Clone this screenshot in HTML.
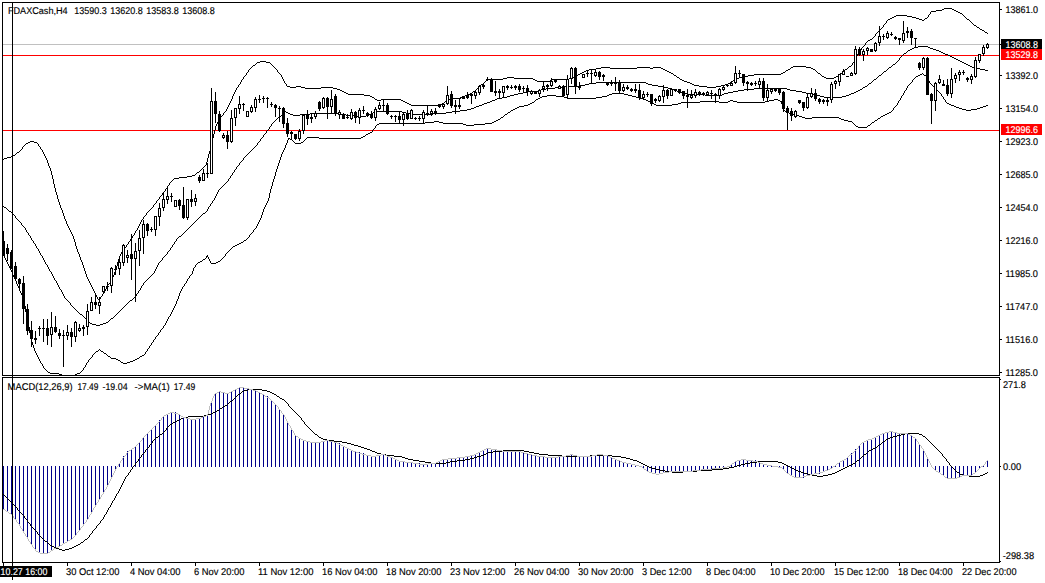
<!DOCTYPE html>
<html><head><meta charset="utf-8"><title>FDAXCash H4</title>
<style>html,body{margin:0;padding:0;background:#fff;overflow:hidden}svg{display:block}text{text-rendering:geometricPrecision;font-family:"Liberation Sans",sans-serif;font-size:9.8px}</style>
</head><body>
<svg width="1045" height="583" viewBox="0 0 1045 583">
<rect width="1045" height="583" fill="#fff"/>
<g shape-rendering="crispEdges">
<rect x="3" y="44" width="997" height="1" fill="#c0c0c0"/>
<rect x="3" y="55" width="997" height="1" fill="#ff0000"/>
<rect x="3" y="130" width="997" height="1" fill="#ff0000"/>
</g>
<g shape-rendering="crispEdges" fill="#00008b">
<rect x="3" y="466" width="1" height="44"/>
<rect x="7" y="466" width="1" height="46"/>
<rect x="11" y="466" width="1" height="49"/>
<rect x="15" y="466" width="1" height="54"/>
<rect x="19" y="466" width="1" height="59"/>
<rect x="23" y="466" width="1" height="65"/>
<rect x="27" y="466" width="1" height="72"/>
<rect x="31" y="466" width="1" height="79"/>
<rect x="35" y="466" width="1" height="85"/>
<rect x="39" y="466" width="1" height="87"/>
<rect x="43" y="466" width="1" height="88"/>
<rect x="47" y="466" width="1" height="87"/>
<rect x="51" y="466" width="1" height="85"/>
<rect x="55" y="466" width="1" height="83"/>
<rect x="59" y="466" width="1" height="81"/>
<rect x="63" y="466" width="1" height="78"/>
<rect x="67" y="466" width="1" height="76"/>
<rect x="71" y="466" width="1" height="74"/>
<rect x="75" y="466" width="1" height="70"/>
<rect x="79" y="466" width="1" height="65"/>
<rect x="83" y="466" width="1" height="59"/>
<rect x="87" y="466" width="1" height="53"/>
<rect x="91" y="466" width="1" height="47"/>
<rect x="95" y="466" width="1" height="40"/>
<rect x="99" y="466" width="1" height="33"/>
<rect x="103" y="466" width="1" height="27"/>
<rect x="107" y="466" width="1" height="20"/>
<rect x="111" y="466" width="1" height="13"/>
<rect x="115" y="466" width="1" height="5"/>
<rect x="119" y="463" width="1" height="4"/>
<rect x="123" y="456" width="1" height="11"/>
<rect x="127" y="451" width="1" height="16"/>
<rect x="131" y="449" width="1" height="18"/>
<rect x="135" y="446" width="1" height="21"/>
<rect x="139" y="442" width="1" height="25"/>
<rect x="143" y="437" width="1" height="30"/>
<rect x="147" y="433" width="1" height="34"/>
<rect x="151" y="429" width="1" height="38"/>
<rect x="155" y="425" width="1" height="42"/>
<rect x="159" y="420" width="1" height="47"/>
<rect x="163" y="416" width="1" height="51"/>
<rect x="167" y="414" width="1" height="53"/>
<rect x="171" y="412" width="1" height="55"/>
<rect x="175" y="412" width="1" height="55"/>
<rect x="179" y="414" width="1" height="53"/>
<rect x="183" y="417" width="1" height="50"/>
<rect x="187" y="418" width="1" height="49"/>
<rect x="191" y="419" width="1" height="48"/>
<rect x="195" y="419" width="1" height="48"/>
<rect x="199" y="418" width="1" height="49"/>
<rect x="203" y="416" width="1" height="51"/>
<rect x="207" y="414" width="1" height="53"/>
<rect x="211" y="402" width="1" height="65"/>
<rect x="215" y="393" width="1" height="74"/>
<rect x="219" y="391" width="1" height="76"/>
<rect x="223" y="392" width="1" height="75"/>
<rect x="227" y="393" width="1" height="74"/>
<rect x="231" y="392" width="1" height="75"/>
<rect x="235" y="390" width="1" height="77"/>
<rect x="239" y="388" width="1" height="79"/>
<rect x="243" y="387" width="1" height="80"/>
<rect x="247" y="388" width="1" height="79"/>
<rect x="251" y="389" width="1" height="78"/>
<rect x="255" y="391" width="1" height="76"/>
<rect x="259" y="392" width="1" height="75"/>
<rect x="263" y="394" width="1" height="73"/>
<rect x="267" y="396" width="1" height="71"/>
<rect x="271" y="400" width="1" height="67"/>
<rect x="275" y="404" width="1" height="63"/>
<rect x="279" y="409" width="1" height="58"/>
<rect x="283" y="415" width="1" height="52"/>
<rect x="287" y="422" width="1" height="45"/>
<rect x="291" y="429" width="1" height="38"/>
<rect x="295" y="435" width="1" height="32"/>
<rect x="299" y="438" width="1" height="29"/>
<rect x="303" y="440" width="1" height="27"/>
<rect x="307" y="441" width="1" height="26"/>
<rect x="311" y="442" width="1" height="25"/>
<rect x="315" y="442" width="1" height="25"/>
<rect x="319" y="442" width="1" height="25"/>
<rect x="323" y="441" width="1" height="26"/>
<rect x="327" y="440" width="1" height="27"/>
<rect x="331" y="441" width="1" height="26"/>
<rect x="335" y="442" width="1" height="25"/>
<rect x="339" y="443" width="1" height="24"/>
<rect x="343" y="446" width="1" height="21"/>
<rect x="347" y="448" width="1" height="19"/>
<rect x="351" y="450" width="1" height="17"/>
<rect x="355" y="451" width="1" height="16"/>
<rect x="359" y="452" width="1" height="15"/>
<rect x="363" y="453" width="1" height="14"/>
<rect x="367" y="455" width="1" height="12"/>
<rect x="371" y="456" width="1" height="11"/>
<rect x="375" y="456" width="1" height="11"/>
<rect x="379" y="455" width="1" height="12"/>
<rect x="383" y="454" width="1" height="13"/>
<rect x="387" y="455" width="1" height="12"/>
<rect x="391" y="457" width="1" height="10"/>
<rect x="395" y="459" width="1" height="8"/>
<rect x="399" y="461" width="1" height="6"/>
<rect x="403" y="461" width="1" height="6"/>
<rect x="407" y="462" width="1" height="5"/>
<rect x="411" y="462" width="1" height="5"/>
<rect x="415" y="463" width="1" height="4"/>
<rect x="419" y="463" width="1" height="4"/>
<rect x="423" y="464" width="1" height="3"/>
<rect x="427" y="464" width="1" height="3"/>
<rect x="431" y="463" width="1" height="4"/>
<rect x="435" y="463" width="1" height="4"/>
<rect x="439" y="461" width="1" height="6"/>
<rect x="443" y="459" width="1" height="8"/>
<rect x="447" y="459" width="1" height="8"/>
<rect x="451" y="458" width="1" height="9"/>
<rect x="455" y="458" width="1" height="9"/>
<rect x="459" y="457" width="1" height="10"/>
<rect x="463" y="457" width="1" height="10"/>
<rect x="467" y="456" width="1" height="11"/>
<rect x="471" y="455" width="1" height="12"/>
<rect x="475" y="454" width="1" height="13"/>
<rect x="479" y="452" width="1" height="15"/>
<rect x="483" y="450" width="1" height="17"/>
<rect x="487" y="448" width="1" height="19"/>
<rect x="491" y="449" width="1" height="18"/>
<rect x="495" y="450" width="1" height="17"/>
<rect x="499" y="450" width="1" height="17"/>
<rect x="503" y="451" width="1" height="16"/>
<rect x="507" y="451" width="1" height="16"/>
<rect x="511" y="451" width="1" height="16"/>
<rect x="515" y="451" width="1" height="16"/>
<rect x="519" y="451" width="1" height="16"/>
<rect x="523" y="452" width="1" height="15"/>
<rect x="527" y="453" width="1" height="14"/>
<rect x="531" y="454" width="1" height="13"/>
<rect x="535" y="455" width="1" height="12"/>
<rect x="539" y="456" width="1" height="11"/>
<rect x="543" y="456" width="1" height="11"/>
<rect x="547" y="457" width="1" height="10"/>
<rect x="551" y="457" width="1" height="10"/>
<rect x="555" y="457" width="1" height="10"/>
<rect x="559" y="456" width="1" height="11"/>
<rect x="563" y="456" width="1" height="11"/>
<rect x="567" y="455" width="1" height="12"/>
<rect x="571" y="454" width="1" height="13"/>
<rect x="575" y="455" width="1" height="12"/>
<rect x="579" y="456" width="1" height="11"/>
<rect x="583" y="456" width="1" height="11"/>
<rect x="587" y="456" width="1" height="11"/>
<rect x="591" y="455" width="1" height="12"/>
<rect x="595" y="455" width="1" height="12"/>
<rect x="599" y="454" width="1" height="13"/>
<rect x="603" y="455" width="1" height="12"/>
<rect x="607" y="455" width="1" height="12"/>
<rect x="611" y="457" width="1" height="10"/>
<rect x="615" y="459" width="1" height="8"/>
<rect x="619" y="460" width="1" height="7"/>
<rect x="623" y="462" width="1" height="5"/>
<rect x="627" y="463" width="1" height="4"/>
<rect x="631" y="464" width="1" height="3"/>
<rect x="635" y="465" width="1" height="2"/>
<rect x="639" y="466" width="1" height="1"/>
<rect x="643" y="466" width="1" height="3"/>
<rect x="647" y="466" width="1" height="6"/>
<rect x="651" y="466" width="1" height="7"/>
<rect x="655" y="466" width="1" height="8"/>
<rect x="659" y="466" width="1" height="8"/>
<rect x="663" y="466" width="1" height="7"/>
<rect x="667" y="466" width="1" height="7"/>
<rect x="671" y="466" width="1" height="6"/>
<rect x="675" y="466" width="1" height="6"/>
<rect x="679" y="466" width="1" height="6"/>
<rect x="683" y="466" width="1" height="6"/>
<rect x="687" y="466" width="1" height="6"/>
<rect x="691" y="466" width="1" height="5"/>
<rect x="695" y="466" width="1" height="5"/>
<rect x="699" y="466" width="1" height="5"/>
<rect x="703" y="466" width="1" height="4"/>
<rect x="707" y="466" width="1" height="4"/>
<rect x="711" y="466" width="1" height="4"/>
<rect x="715" y="466" width="1" height="3"/>
<rect x="719" y="466" width="1" height="3"/>
<rect x="723" y="466" width="1" height="2"/>
<rect x="727" y="466" width="1" height="1"/>
<rect x="731" y="464" width="1" height="3"/>
<rect x="735" y="461" width="1" height="6"/>
<rect x="739" y="460" width="1" height="7"/>
<rect x="743" y="459" width="1" height="8"/>
<rect x="747" y="460" width="1" height="7"/>
<rect x="751" y="460" width="1" height="7"/>
<rect x="755" y="460" width="1" height="7"/>
<rect x="759" y="462" width="1" height="5"/>
<rect x="763" y="464" width="1" height="3"/>
<rect x="767" y="465" width="1" height="2"/>
<rect x="771" y="465" width="1" height="2"/>
<rect x="775" y="466" width="1" height="1"/>
<rect x="779" y="466" width="1" height="1"/>
<rect x="783" y="466" width="1" height="3"/>
<rect x="787" y="466" width="1" height="7"/>
<rect x="791" y="466" width="1" height="10"/>
<rect x="795" y="466" width="1" height="12"/>
<rect x="799" y="466" width="1" height="12"/>
<rect x="803" y="466" width="1" height="12"/>
<rect x="807" y="466" width="1" height="10"/>
<rect x="811" y="466" width="1" height="9"/>
<rect x="815" y="466" width="1" height="8"/>
<rect x="819" y="466" width="1" height="8"/>
<rect x="823" y="466" width="1" height="6"/>
<rect x="827" y="466" width="1" height="5"/>
<rect x="831" y="466" width="1" height="3"/>
<rect x="835" y="465" width="1" height="2"/>
<rect x="839" y="462" width="1" height="5"/>
<rect x="843" y="460" width="1" height="7"/>
<rect x="847" y="457" width="1" height="10"/>
<rect x="851" y="453" width="1" height="14"/>
<rect x="855" y="449" width="1" height="18"/>
<rect x="859" y="445" width="1" height="22"/>
<rect x="863" y="442" width="1" height="25"/>
<rect x="867" y="440" width="1" height="27"/>
<rect x="871" y="439" width="1" height="28"/>
<rect x="875" y="437" width="1" height="30"/>
<rect x="879" y="435" width="1" height="32"/>
<rect x="883" y="433" width="1" height="34"/>
<rect x="887" y="432" width="1" height="35"/>
<rect x="891" y="431" width="1" height="36"/>
<rect x="895" y="432" width="1" height="35"/>
<rect x="899" y="433" width="1" height="34"/>
<rect x="903" y="433" width="1" height="34"/>
<rect x="907" y="433" width="1" height="34"/>
<rect x="911" y="435" width="1" height="32"/>
<rect x="915" y="438" width="1" height="29"/>
<rect x="919" y="444" width="1" height="23"/>
<rect x="923" y="449" width="1" height="18"/>
<rect x="927" y="458" width="1" height="9"/>
<rect x="931" y="466" width="1" height="1"/>
<rect x="935" y="466" width="1" height="5"/>
<rect x="939" y="466" width="1" height="7"/>
<rect x="943" y="466" width="1" height="10"/>
<rect x="947" y="466" width="1" height="13"/>
<rect x="951" y="466" width="1" height="13"/>
<rect x="955" y="466" width="1" height="13"/>
<rect x="959" y="466" width="1" height="12"/>
<rect x="963" y="466" width="1" height="10"/>
<rect x="967" y="466" width="1" height="10"/>
<rect x="971" y="466" width="1" height="10"/>
<rect x="975" y="466" width="1" height="7"/>
<rect x="979" y="466" width="1" height="3"/>
<rect x="983" y="465" width="1" height="2"/>
<rect x="987" y="460" width="1" height="7"/>
</g>
<path shape-rendering="crispEdges" fill="#000" d="M804 473h4v1h-4zM832 473h3v1h-3zM985 473h2v1h-2zM386 455h8v1h-8zM481 455h3v1h-3zM548 455h14v1h-14zM590 455h22v1h-22zM905 433h14v1h-14zM812 475h5v1h-5zM823 475h5v1h-5zM963 475h6v1h-6zM980 475h3v1h-3zM394 456h8v1h-8zM477 456h4v1h-4zM562 456h28v1h-28zM612 456h9v1h-9zM425 462h6v1h-6zM446 462h4v1h-4zM639 462h2v1h-2zM750 462h7v1h-7zM778 462h4v1h-4zM672 472h11v1h-11zM801 472h3v1h-3zM835 472h2v1h-2zM957 472h2v1h-2zM177 420h2v1h-2zM323 439h4v1h-4zM886 439h2v1h-2zM893 436h4v1h-4zM923 436h2v1h-2zM817 476h6v1h-6zM969 476h11v1h-11zM59 549h3v1h-3zM65 549h4v1h-4zM660 470h5v1h-5zM697 470h15v1h-15zM796 470h2v1h-2zM839 470h2v1h-2zM402 457h3v1h-3zM474 457h3v1h-3zM621 457h5v1h-5zM645 465h2v1h-2zM737 465h4v1h-4zM786 465h2v1h-2zM849 465h2v1h-2zM52 546h2v1h-2zM74 546h2v1h-2zM405 458h3v1h-3zM470 458h4v1h-4zM626 458h4v1h-4zM897 435h4v1h-4zM381 454h5v1h-5zM484 454h2v1h-2zM539 454h9v1h-9zM864 454h2v1h-2zM351 444h3v1h-3zM879 444h2v1h-2zM367 449h3v1h-3zM871 449h2v1h-2zM62 550h3v1h-3zM211 413h2v1h-2zM431 463h15v1h-15zM641 463h2v1h-2zM745 463h5v1h-5zM782 463h2v1h-2zM853 463h2v1h-2zM327 440h7v1h-7zM652 468h4v1h-4zM723 468h6v1h-6zM792 468h2v1h-2zM843 468h2v1h-2zM408 459h5v1h-5zM465 459h5v1h-5zM630 459h3v1h-3zM370 450h2v1h-2zM503 450h21v1h-21zM869 450h2v1h-2zM665 471h7v1h-7zM683 471h14v1h-14zM798 471h3v1h-3zM837 471h2v1h-2zM361 447h3v1h-3zM875 447h2v1h-2zM173 422h2v1h-2zM56 548h3v1h-3zM69 548h3v1h-3zM342 442h5v1h-5zM188 416h16v1h-16zM647 466h2v1h-2zM734 466h3v1h-3zM788 466h2v1h-2zM847 466h2v1h-2zM364 448h3v1h-3zM873 448h2v1h-2zM656 469h4v1h-4zM712 469h11v1h-11zM794 469h2v1h-2zM841 469h2v1h-2zM808 474h4v1h-4zM828 474h4v1h-4zM960 474h3v1h-3zM983 474h2v1h-2zM45 541h2v1h-2zM248 389h14v1h-14zM220 408h2v1h-2zM643 464h2v1h-2zM741 464h4v1h-4zM784 464h2v1h-2zM851 464h2v1h-2zM354 445h4v1h-4zM649 467h3v1h-3zM729 467h5v1h-5zM790 467h2v1h-2zM845 467h2v1h-2zM419 461h6v1h-6zM450 461h7v1h-7zM637 461h2v1h-2zM757 461h21v1h-21zM413 460h6v1h-6zM457 460h8v1h-8zM633 460h4v1h-4zM857 460h2v1h-2zM208 414h3v1h-3zM347 443h4v1h-4zM377 453h4v1h-4zM486 453h2v1h-2zM534 453h5v1h-5zM156 437h2v1h-2zM319 437h2v1h-2zM890 437h3v1h-3zM282 399h2v1h-2zM372 451h3v1h-3zM493 451h10v1h-10zM524 451h5v1h-5zM242 391h2v1h-2zM267 391h3v1h-3zM270 392h2v1h-2zM230 401h2v1h-2zM81 542h2v1h-2zM272 393h2v1h-2zM334 441h8v1h-8zM883 441h2v1h-2zM160 434h2v1h-2zM315 434h2v1h-2zM901 434h4v1h-4zM919 434h3v1h-3zM217 410h2v1h-2zM215 411h2v1h-2zM50 545h2v1h-2zM76 545h2v1h-2zM277 396h2v1h-2zM225 405h2v1h-2zM183 417h5v1h-5zM375 452h2v1h-2zM488 452h5v1h-5zM529 452h5v1h-5zM244 390h4v1h-4zM262 390h5v1h-5zM280 398h2v1h-2zM321 438h2v1h-2zM888 438h2v1h-2zM358 446h3v1h-3zM223 406h2v1h-2zM54 547h2v1h-2zM72 547h2v1h-2zM78 544h2v1h-2zM238 394h2v1h-2zM274 394h2v1h-2zM179 419h2v1h-2zM213 412h2v1h-2zM175 421h2v1h-2zM204 415h4v1h-4zM85 539h2v1h-2zM170 424h2v1h-2zM181 418h2v1h-2zM959 473h1v1h-1zM228 403h1v1h-1zM145 450h1v2h-1zM229 402h1v1h-1zM147 448h1v1h-1zM859 459h1v1h-1zM166 428h1v2h-1zM234 398h1v1h-1zM929 441h1v1h-1zM301 418h1v2h-1zM103 517h1v2h-1zM934 446h1v1h-1zM314 433h1v1h-1zM29 523h1v1h-1zM141 455h1v2h-1zM143 453h1v1h-1zM944 457h1v1h-1zM227 404h1v1h-1zM144 452h1v1h-1zM232 400h1v1h-1zM162 433h1v1h-1zM49 544h1v1h-1zM128 473h1v2h-1zM310 429h1v1h-1zM102 519h1v1h-1zM305 424h1v1h-1zM140 457h1v1h-1zM119 489h1v2h-1zM120 487h1v2h-1zM318 436h1v1h-1zM126 476h1v1h-1zM80 543h1v1h-1zM946 459h1v2h-1zM311 430h1v1h-1zM111 503h1v2h-1zM222 407h1v1h-1zM949 463h1v2h-1zM935 447h1v1h-1zM868 451h1v1h-1zM115 496h1v2h-1zM17 508h1v2h-1zM931 443h1v1h-1zM941 453h1v1h-1zM950 465h1v1h-1zM125 477h1v2h-1zM927 439h1v1h-1zM152 441h1v2h-1zM312 431h1v1h-1zM26 519h1v1h-1zM116 494h1v2h-1zM118 491h1v2h-1zM276 395h1v1h-1zM308 427h1v1h-1zM122 483h1v2h-1zM148 447h1v1h-1zM48 543h1v1h-1zM860 458h1v1h-1zM108 508h1v2h-1zM27 520h1v2h-1zM107 510h1v2h-1zM942 454h1v2h-1zM882 442h1v1h-1zM92 531h1v2h-1zM30 524h1v2h-1zM135 463h1v2h-1zM309 428h1v1h-1zM938 450h1v1h-1zM303 421h1v1h-1zM233 399h1v1h-1zM219 409h1v1h-1zM293 410h1v1h-1zM922 435h1v1h-1zM953 468h1v1h-1zM288 404h1v2h-1zM2 493h1v1h-1zM939 451h1v1h-1zM37 532h1v2h-1zM112 501h1v2h-1zM114 498h1v2h-1zM289 406h1v1h-1zM146 449h1v1h-1zM294 411h1v1h-1zM129 472h1v1h-1zM131 469h1v1h-1zM24 516h1v2h-1zM130 470h1v2h-1zM3 494h1v1h-1zM104 515h1v2h-1zM106 512h1v2h-1zM18 510h1v1h-1zM132 467h1v2h-1zM43 539h1v1h-1zM142 454h1v1h-1zM290 407h1v1h-1zM39 535h1v1h-1zM987 472h1v1h-1zM100 521h1v2h-1zM954 469h1v1h-1zM940 452h1v1h-1zM19 511h1v1h-1zM138 459h1v2h-1zM89 535h1v2h-1zM936 448h1v1h-1zM83 541h1v1h-1zM96 526h1v2h-1zM295 412h1v1h-1zM25 518h1v1h-1zM955 470h1v1h-1zM4 495h1v1h-1zM302 420h1v1h-1zM44 540h1v1h-1zM110 505h1v2h-1zM291 408h1v1h-1zM5 496h1v1h-1zM164 431h1v1h-1zM951 466h1v1h-1zM165 430h1v1h-1zM10 501h1v1h-1zM154 439h1v1h-1zM40 536h1v1h-1zM313 432h1v1h-1zM292 409h1v1h-1zM6 497h1v1h-1zM286 402h1v1h-1zM124 479h1v2h-1zM150 444h1v1h-1zM153 440h1v1h-1zM41 537h1v1h-1zM956 471h1v1h-1zM35 530h1v1h-1zM877 446h1v1h-1zM22 514h1v1h-1zM123 481h1v2h-1zM31 526h1v1h-1zM149 445h1v2h-1zM11 502h1v1h-1zM952 467h1v1h-1zM304 422h1v2h-1zM881 443h1v1h-1zM298 415h1v1h-1zM7 498h1v1h-1zM32 527h1v1h-1zM947 461h1v1h-1zM42 538h1v1h-1zM299 416h1v1h-1zM885 440h1v1h-1zM8 499h1v1h-1zM121 485h1v2h-1zM38 534h1v1h-1zM23 515h1v1h-1zM169 425h1v1h-1zM84 540h1v1h-1zM113 500h1v1h-1zM284 400h1v1h-1zM94 529h1v1h-1zM285 401h1v1h-1zM33 528h1v1h-1zM236 396h1v1h-1zM168 426h1v1h-1zM155 438h1v1h-1zM90 534h1v1h-1zM88 537h1v1h-1zM20 512h1v1h-1zM300 417h1v1h-1zM14 505h1v1h-1zM928 440h1v1h-1zM9 500h1v1h-1zM948 462h1v1h-1zM279 397h1v1h-1zM172 423h1v1h-1zM296 413h1v1h-1zM87 538h1v1h-1zM159 435h1v1h-1zM15 506h1v1h-1zM117 493h1v1h-1zM297 414h1v1h-1zM109 507h1v1h-1zM925 437h1v1h-1zM158 436h1v1h-1zM163 432h1v1h-1zM21 513h1v1h-1zM317 435h1v1h-1zM945 458h1v1h-1zM287 403h1v1h-1zM306 425h1v1h-1zM36 531h1v1h-1zM930 442h1v1h-1zM98 524h1v1h-1zM101 520h1v1h-1zM127 475h1v1h-1zM16 507h1v1h-1zM99 523h1v1h-1zM136 462h1v1h-1zM137 461h1v1h-1zM139 458h1v1h-1zM863 455h1v1h-1zM12 503h1v1h-1zM926 438h1v1h-1zM95 528h1v1h-1zM97 525h1v1h-1zM133 466h1v1h-1zM105 514h1v1h-1zM134 465h1v1h-1zM862 456h1v1h-1zM13 504h1v1h-1zM867 452h1v1h-1zM932 444h1v1h-1zM237 395h1v1h-1zM861 457h1v1h-1zM856 461h1v1h-1zM91 533h1v1h-1zM93 530h1v1h-1zM47 542h1v1h-1zM307 426h1v1h-1zM235 397h1v1h-1zM240 393h1v1h-1zM241 392h1v1h-1zM866 453h1v1h-1zM943 456h1v1h-1zM855 462h1v1h-1zM937 449h1v1h-1zM167 427h1v1h-1zM151 443h1v1h-1zM878 445h1v1h-1zM34 529h1v1h-1zM933 445h1v1h-1zM28 522h1v1h-1z"/>
<path shape-rendering="crispEdges" fill="#c0c0c0" d="M371 456h5v1h-5zM387 456h3v1h-3zM465 456h5v1h-5zM537 456h8v1h-8zM558 456h8v1h-8zM577 456h15v1h-15zM608 456h2v1h-2zM349 449h2v1h-2zM484 449h2v1h-2zM491 449h6v1h-6zM343 446h2v1h-2zM790 475h2v1h-2zM806 475h4v1h-4zM962 475h10v1h-10zM219 391h2v1h-2zM231 391h2v1h-2zM256 391h2v1h-2zM310 442h11v1h-11zM334 442h3v1h-3zM862 442h2v1h-2zM399 461h6v1h-6zM438 461h2v1h-2zM620 461h2v1h-2zM735 461h2v1h-2zM753 461h5v1h-5zM840 461h2v1h-2zM265 396h2v1h-2zM419 464h9v1h-9zM631 464h4v1h-4zM763 464h4v1h-4zM40 553h8v1h-8zM393 458h2v1h-2zM448 458h9v1h-9zM612 458h3v1h-3zM882 433h3v1h-3zM897 433h11v1h-11zM353 451h3v1h-3zM480 451h2v1h-2zM502 451h19v1h-19zM395 459h2v1h-2zM442 459h6v1h-6zM615 459h2v1h-2zM741 459h5v1h-5zM844 459h2v1h-2zM712 468h10v1h-10zM830 468h2v1h-2zM652 473h4v1h-4zM659 473h4v1h-4zM787 473h2v1h-2zM814 473h5v1h-5zM973 473h2v1h-2zM366 455h5v1h-5zM376 455h5v1h-5zM385 455h2v1h-2zM470 455h4v1h-4zM532 455h5v1h-5zM566 455h4v1h-4zM573 455h4v1h-4zM592 455h5v1h-5zM603 455h5v1h-5zM164 415h2v1h-2zM206 415h2v1h-2zM792 476h2v1h-2zM803 476h3v1h-3zM960 476h2v1h-2zM405 462h8v1h-8zM436 462h2v1h-2zM622 462h4v1h-4zM758 462h2v1h-2zM237 388h2v1h-2zM244 388h5v1h-5zM693 470h8v1h-8zM825 470h3v1h-3zM38 552h2v1h-2zM48 552h2v1h-2zM635 465h4v1h-4zM767 465h5v1h-5zM647 471h2v1h-2zM669 471h24v1h-24zM823 471h2v1h-2zM936 471h2v1h-2zM397 460h2v1h-2zM440 460h2v1h-2zM617 460h3v1h-3zM737 460h4v1h-4zM746 460h7v1h-7zM842 460h2v1h-2zM215 393h2v1h-2zM225 393h4v1h-4zM260 393h2v1h-2zM306 441h4v1h-4zM321 441h4v1h-4zM329 441h5v1h-5zM864 441h2v1h-2zM36 551h2v1h-2zM339 444h2v1h-2zM889 431h4v1h-4zM235 389h2v1h-2zM249 389h4v1h-4zM186 418h4v1h-4zM196 418h5v1h-5zM413 463h6v1h-6zM428 463h8v1h-8zM626 463h5v1h-5zM732 463h2v1h-2zM760 463h3v1h-3zM837 463h2v1h-2zM794 477h9v1h-9zM945 477h2v1h-2zM957 477h3v1h-3zM181 416h2v1h-2zM203 416h3v1h-3zM390 457h3v1h-3zM457 457h8v1h-8zM545 457h13v1h-13zM610 457h2v1h-2zM132 448h2v1h-2zM347 448h2v1h-2zM486 448h5v1h-5zM359 453h3v1h-3zM476 453h2v1h-2zM524 453h4v1h-4zM190 419h6v1h-6zM129 450h2v1h-2zM351 450h2v1h-2zM482 450h2v1h-2zM497 450h5v1h-5zM644 469h2v1h-2zM701 469h11v1h-11zM828 469h2v1h-2zM656 474h3v1h-3zM810 474h4v1h-4zM941 474h2v1h-2zM880 434h2v1h-2zM908 434h2v1h-2zM878 435h2v1h-2zM910 435h2v1h-2zM639 466h3v1h-3zM727 466h3v1h-3zM772 466h6v1h-6zM833 466h2v1h-2zM981 466h2v1h-2zM70 539h2v1h-2zM356 452h3v1h-3zM478 452h2v1h-2zM521 452h3v1h-3zM885 432h4v1h-4zM893 432h4v1h-4zM362 454h4v1h-4zM381 454h4v1h-4zM474 454h2v1h-2zM528 454h4v1h-4zM570 454h3v1h-3zM597 454h6v1h-6zM850 454h2v1h-2zM168 413h2v1h-2zM174 413h4v1h-4zM54 548h2v1h-2zM649 472h3v1h-3zM663 472h6v1h-6zM819 472h4v1h-4zM938 472h2v1h-2zM947 478h10v1h-10zM303 440h3v1h-3zM325 440h4v1h-4zM866 440h2v1h-2zM296 436h2v1h-2zM876 436h2v1h-2zM239 387h5v1h-5zM9 513h2v1h-2zM51 550h2v1h-2zM68 540h2v1h-2zM722 467h5v1h-5zM778 467h4v1h-4zM341 445h2v1h-2zM63 543h2v1h-2zM65 542h2v1h-2zM345 447h2v1h-2zM166 414h2v1h-2zM178 414h2v1h-2zM337 443h2v1h-2zM299 438h2v1h-2zM872 438h2v1h-2zM217 392h2v1h-2zM221 392h4v1h-4zM229 392h2v1h-2zM258 392h2v1h-2zM301 439h2v1h-2zM868 439h4v1h-4zM58 546h2v1h-2zM56 547h2v1h-2zM170 412h4v1h-4zM183 417h3v1h-3zM201 417h2v1h-2zM3 509h2v1h-2zM874 437h2v1h-2zM913 437h2v1h-2zM233 390h2v1h-2zM253 390h3v1h-3zM262 394h2v1h-2zM267 397h2v1h-2zM6 511h2v1h-2zM60 545h2v1h-2zM88 517h1v2h-1zM123 457h1v1h-1zM209 406h1v4h-1zM76 533h1v2h-1zM921 446h1v2h-1zM112 475h1v2h-1zM213 396h1v2h-1zM8 512h1v1h-1zM83 524h1v2h-1zM151 429h1v1h-1zM208 410h1v4h-1zM111 477h1v2h-1zM940 473h1v1h-1zM284 415h1v2h-1zM15 519h1v1h-1zM985 462h1v2h-1zM734 462h1v1h-1zM935 470h1v1h-1zM19 524h1v2h-1zM269 398h1v1h-1zM107 485h1v2h-1zM154 426h1v1h-1zM96 503h1v2h-1zM99 499h1v1h-1zM115 469h1v2h-1zM860 444h1v1h-1zM212 398h1v3h-1zM103 492h1v2h-1zM106 487h1v2h-1zM95 505h1v2h-1zM142 438h1v2h-1zM119 463h1v1h-1zM22 529h1v2h-1zM848 456h1v1h-1zM211 401h1v2h-1zM79 530h1v1h-1zM18 523h1v1h-1zM82 526h1v1h-1zM91 512h1v2h-1zM852 453h1v1h-1zM161 418h1v2h-1zM74 536h1v1h-1zM134 447h1v1h-1zM980 467h1v1h-1zM122 458h1v2h-1zM149 431h1v1h-1zM642 467h1v1h-1zM932 467h1v1h-1zM25 534h1v2h-1zM643 468h1v1h-1zM783 469h1v1h-1zM110 479h1v2h-1zM275 404h1v1h-1zM102 494h1v1h-1zM984 464h1v1h-1zM276 405h1v1h-1zM118 464h1v2h-1zM977 470h1v1h-1zM156 424h1v1h-1zM125 455h1v1h-1zM98 500h1v2h-1zM210 403h1v3h-1zM67 541h1v1h-1zM17 522h1v1h-1zM782 468h1v1h-1zM931 465h1v2h-1zM28 539h1v2h-1zM114 471h1v2h-1zM21 528h1v1h-1zM153 427h1v1h-1zM916 439h1v2h-1zM141 440h1v1h-1zM144 436h1v1h-1zM859 445h1v1h-1zM854 451h1v1h-1zM16 520h1v2h-1zM24 533h1v1h-1zM32 545h1v2h-1zM930 463h1v2h-1zM847 457h1v1h-1zM5 510h1v1h-1zM101 495h1v2h-1zM160 420h1v1h-1zM73 537h1v1h-1zM278 407h1v2h-1zM92 510h1v2h-1zM835 465h1v1h-1zM116 467h1v2h-1zM136 445h1v1h-1zM27 537h1v2h-1zM839 462h1v1h-1zM30 542h1v2h-1zM81 527h1v1h-1zM20 526h1v2h-1zM23 531h1v2h-1zM109 481h1v2h-1zM31 544h1v1h-1zM270 399h1v1h-1zM927 457h1v2h-1zM979 468h1v1h-1zM271 400h1v1h-1zM983 465h1v1h-1zM105 489h1v1h-1zM277 406h1v1h-1zM148 432h1v1h-1zM214 394h1v2h-1zM789 474h1v1h-1zM281 411h1v2h-1zM929 461h1v2h-1zM26 536h1v1h-1zM858 446h1v2h-1zM933 468h1v1h-1zM163 416h1v1h-1zM915 438h1v1h-1zM140 441h1v1h-1zM918 442h1v2h-1zM926 455h1v2h-1zM731 464h1v1h-1zM53 549h1v1h-1zM158 422h1v1h-1zM124 456h1v1h-1zM127 452h1v1h-1zM80 528h1v2h-1zM288 423h1v2h-1zM285 417h1v2h-1zM298 437h1v1h-1zM84 523h1v1h-1zM87 519h1v1h-1zM861 443h1v1h-1zM146 434h1v1h-1zM928 459h1v2h-1zM143 437h1v1h-1zM784 470h1v1h-1zM785 471h1v1h-1zM986 461h1v1h-1zM849 455h1v1h-1zM853 452h1v1h-1zM291 428h1v2h-1zM131 449h1v1h-1zM155 425h1v1h-1zM135 446h1v1h-1zM29 541h1v1h-1zM11 514h1v1h-1zM75 535h1v1h-1zM33 547h1v1h-1zM917 441h1v1h-1zM925 453h1v2h-1zM856 449h1v1h-1zM273 402h1v1h-1zM294 433h1v2h-1zM138 443h1v1h-1zM94 507h1v1h-1zM279 409h1v1h-1zM287 421h1v2h-1zM280 410h1v1h-1zM78 531h1v1h-1zM90 514h1v1h-1zM943 475h1v1h-1zM126 453h1v2h-1zM150 430h1v1h-1zM924 451h1v2h-1zM272 401h1v1h-1zM86 520h1v2h-1zM290 426h1v2h-1zM293 431h1v2h-1zM286 419h1v2h-1zM2 508h1v1h-1zM162 417h1v1h-1zM14 518h1v1h-1zM832 467h1v1h-1zM35 549h1v2h-1zM730 465h1v1h-1zM157 423h1v1h-1zM972 474h1v1h-1zM836 464h1v1h-1zM920 445h1v1h-1zM786 472h1v1h-1zM976 471h1v1h-1zM121 460h1v1h-1zM97 502h1v1h-1zM289 425h1v1h-1zM113 473h1v2h-1zM89 515h1v2h-1zM646 470h1v1h-1zM282 413h1v1h-1zM145 435h1v1h-1zM283 414h1v1h-1zM912 436h1v1h-1zM93 508h1v2h-1zM934 469h1v1h-1zM919 444h1v1h-1zM855 450h1v1h-1zM207 414h1v1h-1zM923 449h1v2h-1zM180 415h1v1h-1zM137 444h1v1h-1zM108 483h1v2h-1zM264 395h1v1h-1zM62 544h1v1h-1zM152 428h1v1h-1zM13 516h1v2h-1zM104 490h1v2h-1zM117 466h1v1h-1zM120 461h1v2h-1zM85 522h1v1h-1zM100 497h1v2h-1zM292 430h1v1h-1zM274 403h1v1h-1zM295 435h1v1h-1zM846 458h1v1h-1zM77 532h1v1h-1zM50 551h1v1h-1zM987 460h1v1h-1zM12 515h1v1h-1zM72 538h1v1h-1zM978 469h1v1h-1zM34 548h1v1h-1zM944 476h1v1h-1zM147 433h1v1h-1zM922 448h1v1h-1zM975 472h1v1h-1zM857 448h1v1h-1zM159 421h1v1h-1zM139 442h1v1h-1zM128 451h1v1h-1z"/>
<path shape-rendering="crispEdges" fill="#000" d="M13 155h2v1h-2zM578 74h2v1h-2zM754 74h27v1h-27zM179 177h8v1h-8zM370 96h2v1h-2zM462 96h3v1h-3zM586 70h3v1h-3zM665 70h2v1h-2zM786 70h2v1h-2zM487 79h16v1h-16zM533 79h2v1h-2zM551 79h18v1h-18zM680 79h2v1h-2zM735 79h2v1h-2zM11 156h2v1h-2zM192 175h3v1h-3zM589 69h7v1h-7zM663 69h2v1h-2zM788 69h2v1h-2zM813 69h2v1h-2zM845 69h2v1h-2zM2 159h2v1h-2zM982 30h2v1h-2zM537 81h13v1h-13zM684 81h3v1h-3zM290 87h6v1h-6zM301 87h4v1h-4zM321 87h12v1h-12zM707 87h9v1h-9zM411 105h28v1h-28zM596 68h5v1h-5zM610 68h27v1h-27zM650 68h3v1h-3zM661 68h2v1h-2zM811 68h2v1h-2zM305 88h16v1h-16zM333 88h4v1h-4zM481 84h2v1h-2zM692 84h2v1h-2zM725 84h3v1h-3zM576 75h2v1h-2zM674 75h2v1h-2zM748 75h6v1h-6zM892 17h2v1h-2zM912 17h4v1h-4zM340 90h2v1h-2zM30 141h4v1h-4zM793 66h13v1h-13zM849 66h2v1h-2zM7 157h4v1h-4zM582 72h2v1h-2zM669 72h2v1h-2zM783 72h2v1h-2zM28 142h2v1h-2zM34 142h3v1h-3zM601 67h9v1h-9zM637 67h13v1h-13zM653 67h8v1h-8zM791 67h2v1h-2zM806 67h5v1h-5zM868 40h2v1h-2zM503 78h4v1h-4zM514 78h19v1h-19zM569 78h3v1h-3zM737 78h2v1h-2zM826 78h8v1h-8zM375 99h2v1h-2zM381 99h20v1h-20zM449 99h2v1h-2zM535 80h2v1h-2zM682 80h2v1h-2zM733 80h2v1h-2zM451 98h10v1h-10zM348 94h16v1h-16zM468 94h2v1h-2zM409 104h2v1h-2zM439 104h3v1h-3zM377 100h4v1h-4zM401 100h2v1h-2zM447 100h2v1h-2zM403 101h2v1h-2zM445 101h2v1h-2zM507 77h7v1h-7zM572 77h2v1h-2zM677 77h2v1h-2zM739 77h4v1h-4zM824 77h2v1h-2zM834 77h2v1h-2zM687 82h3v1h-3zM730 82h2v1h-2zM870 39h2v1h-2zM931 11h5v1h-5zM956 11h2v1h-2zM287 86h3v1h-3zM296 86h5v1h-5zM699 86h8v1h-8zM716 86h5v1h-5zM574 76h2v1h-2zM743 76h5v1h-5zM822 76h2v1h-2zM836 76h2v1h-2zM896 15h11v1h-11zM17 152h2v1h-2zM936 10h6v1h-6zM954 10h2v1h-2zM894 16h2v1h-2zM907 16h5v1h-5zM694 85h5v1h-5zM721 85h4v1h-4zM174 178h5v1h-5zM890 18h2v1h-2zM916 18h3v1h-3zM925 18h2v1h-2zM584 71h2v1h-2zM667 71h2v1h-2zM364 95h6v1h-6zM465 95h3v1h-3zM257 62h3v1h-3zM266 62h4v1h-4zM888 19h2v1h-2zM919 19h3v1h-3zM967 19h2v1h-2zM372 97h2v1h-2zM460 97h2v1h-2zM407 103h2v1h-2zM442 103h2v1h-2zM197 172h2v1h-2zM580 73h2v1h-2zM671 73h2v1h-2zM781 73h2v1h-2zM818 73h2v1h-2zM840 73h2v1h-2zM922 20h2v1h-2zM187 176h5v1h-5zM977 27h2v1h-2zM342 91h2v1h-2zM473 91h2v1h-2zM344 92h2v1h-2zM942 9h2v1h-2zM952 9h2v1h-2zM690 83h2v1h-2zM728 83h2v1h-2zM944 8h8v1h-8zM974 25h2v1h-2zM4 158h3v1h-3zM405 102h2v1h-2zM958 12h2v1h-2zM346 93h2v1h-2zM470 93h2v1h-2zM253 65h2v1h-2zM260 61h6v1h-6zM985 32h2v1h-2zM26 143h2v1h-2zM980 29h2v1h-2zM337 89h3v1h-3zM960 13h2v1h-2zM98 299h2v1h-2zM44 154h1v2h-1zM52 175h1v4h-1zM125 247h1v1h-1zM80 257h1v3h-1zM248 70h1v2h-1zM200 170h1v1h-1zM37 143h1v1h-1zM45 156h1v2h-1zM73 236h1v3h-1zM122 250h1v2h-1zM881 28h1v1h-1zM38 144h1v2h-1zM114 272h1v3h-1zM282 77h1v2h-1zM84 268h1v3h-1zM984 31h1v1h-1zM173 179h1v1h-1zM59 202h1v3h-1zM208 154h1v4h-1zM142 219h1v1h-1zM76 246h1v3h-1zM118 259h1v3h-1zM475 90h1v1h-1zM134 233h1v2h-1zM865 43h1v2h-1zM979 28h1v1h-1zM233 94h1v2h-1zM90 283h1v2h-1zM213 134h1v4h-1zM212 138h1v5h-1zM91 285h1v2h-1zM138 226h1v2h-1zM55 188h1v4h-1zM150 209h1v1h-1zM130 239h1v2h-1zM153 205h1v2h-1zM852 63h1v2h-1zM821 75h1v1h-1zM232 96h1v3h-1zM884 24h1v1h-1zM41 149h1v1h-1zM69 228h1v2h-1zM221 116h1v1h-1zM224 112h1v1h-1zM861 48h1v2h-1zM54 184h1v4h-1zM145 215h1v1h-1zM137 228h1v2h-1zM75 242h1v4h-1zM964 16h1v1h-1zM83 265h1v3h-1zM204 166h1v1h-1zM161 195h1v1h-1zM93 289h1v2h-1zM228 105h1v2h-1zM117 262h1v4h-1zM48 163h1v3h-1zM207 158h1v4h-1zM121 252h1v2h-1zM89 281h1v2h-1zM244 76h1v1h-1zM876 33h1v1h-1zM79 254h1v3h-1zM930 12h1v2h-1zM156 201h1v2h-1zM211 143h1v4h-1zM113 275h1v2h-1zM62 210h1v3h-1zM22 147h1v2h-1zM227 107h1v2h-1zM72 234h1v2h-1zM116 266h1v3h-1zM274 67h1v1h-1zM40 147h1v2h-1zM240 82h1v2h-1zM68 226h1v2h-1zM58 199h1v3h-1zM864 45h1v1h-1zM252 66h1v1h-1zM109 283h1v1h-1zM275 68h1v1h-1zM164 191h1v1h-1zM486 80h1v1h-1zM847 68h1v1h-1zM215 126h1v4h-1zM859 51h1v1h-1zM64 216h1v3h-1zM479 86h1v1h-1zM57 195h1v4h-1zM817 72h1v1h-1zM105 289h1v2h-1zM883 25h1v2h-1zM195 174h1v1h-1zM483 83h1v1h-1zM86 274h1v3h-1zM141 220h1v2h-1zM71 232h1v2h-1zM199 171h1v1h-1zM133 235h1v1h-1zM25 144h1v1h-1zM855 58h1v2h-1zM971 22h1v1h-1zM43 152h1v2h-1zM51 171h1v4h-1zM867 41h1v1h-1zM112 277h1v3h-1zM16 153h1v1h-1zM172 180h1v1h-1zM50 168h1v3h-1zM120 254h1v2h-1zM243 77h1v2h-1zM152 207h1v1h-1zM851 65h1v1h-1zM210 147h1v4h-1zM231 99h1v2h-1zM886 21h1v2h-1zM247 72h1v1h-1zM92 287h1v2h-1zM250 68h1v1h-1zM223 113h1v2h-1zM82 262h1v3h-1zM970 21h1v1h-1zM115 269h1v3h-1zM124 248h1v1h-1zM127 244h1v1h-1zM47 160h1v3h-1zM206 162h1v3h-1zM234 92h1v2h-1zM78 252h1v2h-1zM20 150h1v1h-1zM144 216h1v1h-1zM277 70h1v2h-1zM167 186h1v2h-1zM875 34h1v2h-1zM878 31h1v1h-1zM53 179h1v5h-1zM679 78h1v1h-1zM49 166h1v2h-1zM966 18h1v1h-1zM140 222h1v2h-1zM88 279h1v2h-1zM119 256h1v3h-1zM854 60h1v2h-1zM63 213h1v3h-1zM111 280h1v2h-1zM56 192h1v3h-1zM147 212h1v1h-1zM136 230h1v1h-1zM214 130h1v4h-1zM838 75h1v1h-1zM858 52h1v2h-1zM106 287h1v2h-1zM67 224h1v2h-1zM42 150h1v2h-1zM70 230h1v2h-1zM246 73h1v2h-1zM155 203h1v1h-1zM158 199h1v1h-1zM170 182h1v1h-1zM217 122h1v2h-1zM102 294h1v2h-1zM226 109h1v2h-1zM241 80h1v2h-1zM74 239h1v3h-1zM873 37h1v1h-1zM87 277h1v2h-1zM209 151h1v3h-1zM77 249h1v3h-1zM866 42h1v1h-1zM842 72h1v1h-1zM60 205h1v3h-1zM237 87h1v1h-1zM550 80h1v1h-1zM66 221h1v3h-1zM965 17h1v1h-1zM126 245h1v2h-1zM976 26h1v1h-1zM230 101h1v2h-1zM485 81h1v1h-1zM927 17h1v1h-1zM882 27h1v1h-1zM201 169h1v1h-1zM143 217h1v2h-1zM857 54h1v2h-1zM15 154h1v1h-1zM19 151h1v1h-1zM166 188h1v1h-1zM276 69h1v1h-1zM256 63h1v1h-1zM853 62h1v1h-1zM101 296h1v1h-1zM249 69h1v1h-1zM220 117h1v2h-1zM472 92h1v1h-1zM885 23h1v1h-1zM146 213h1v2h-1zM476 89h1v1h-1zM236 88h1v2h-1zM972 23h1v1h-1zM169 183h1v2h-1zM216 124h1v2h-1zM785 71h1v1h-1zM283 79h1v2h-1zM154 204h1v1h-1zM286 84h1v2h-1zM97 297h1v2h-1zM279 73h1v1h-1zM110 282h1v1h-1zM149 210h1v1h-1zM880 29h1v1h-1zM165 189h1v2h-1zM61 208h1v2h-1zM245 75h1v1h-1zM278 72h1v1h-1zM157 200h1v1h-1zM203 167h1v1h-1zM160 196h1v1h-1zM104 291h1v2h-1zM65 219h1v2h-1zM872 38h1v1h-1zM129 241h1v1h-1zM132 236h1v2h-1zM844 70h1v1h-1zM270 63h1v1h-1zM848 67h1v1h-1zM239 84h1v1h-1zM271 64h1v1h-1zM860 50h1v1h-1zM85 271h1v3h-1zM108 284h1v1h-1zM219 119h1v2h-1zM285 83h1v1h-1zM929 14h1v1h-1zM478 87h1v1h-1zM235 90h1v2h-1zM856 56h1v2h-1zM281 75h1v2h-1zM21 149h1v1h-1zM863 46h1v1h-1zM673 74h1v1h-1zM100 297h1v2h-1zM676 76h1v1h-1zM168 185h1v1h-1zM251 67h1v1h-1zM139 224h1v2h-1zM163 192h1v1h-1zM284 81h1v2h-1zM128 242h1v2h-1zM151 208h1v1h-1zM255 64h1v1h-1zM96 295h1v2h-1zM222 115h1v1h-1zM123 249h1v1h-1zM963 15h1v1h-1zM24 145h1v1h-1zM135 231h1v2h-1zM81 260h1v2h-1zM444 102h1v1h-1zM879 30h1v1h-1zM924 19h1v1h-1zM874 36h1v1h-1zM928 15h1v2h-1zM820 74h1v1h-1zM973 24h1v1h-1zM962 14h1v1h-1zM887 20h1v1h-1zM148 211h1v1h-1zM95 293h1v2h-1zM839 74h1v1h-1zM107 285h1v2h-1zM843 71h1v1h-1zM159 197h1v2h-1zM205 165h1v1h-1zM229 103h1v2h-1zM171 181h1v1h-1zM46 158h1v2h-1zM202 168h1v1h-1zM103 293h1v1h-1zM242 79h1v1h-1zM218 121h1v1h-1zM273 66h1v1h-1zM39 146h1v1h-1zM131 238h1v1h-1zM225 111h1v1h-1zM280 74h1v1h-1zM790 68h1v1h-1zM94 291h1v2h-1zM238 85h1v2h-1zM815 70h1v1h-1zM987 33h1v1h-1zM732 81h1v1h-1zM162 193h1v2h-1zM816 71h1v1h-1zM862 47h1v1h-1zM877 32h1v1h-1zM480 85h1v1h-1zM272 65h1v1h-1zM477 88h1v1h-1zM196 173h1v1h-1zM23 146h1v1h-1zM374 98h1v1h-1zM969 20h1v1h-1zM484 82h1v1h-1z"/>
<path shape-rendering="crispEdges" fill="#000" d="M596 82h50v1h-50zM518 93h5v1h-5zM682 93h5v1h-5zM724 93h4v1h-4zM806 93h4v1h-4zM851 93h3v1h-3zM948 55h2v1h-2zM514 94h4v1h-4zM687 94h18v1h-18zM722 94h2v1h-2zM810 94h5v1h-5zM849 94h2v1h-2zM563 86h16v1h-16zM658 86h6v1h-6zM865 86h2v1h-2zM179 236h2v1h-2zM510 95h4v1h-4zM705 95h17v1h-17zM815 95h5v1h-5zM846 95h3v1h-3zM579 85h6v1h-6zM652 85h6v1h-6zM288 113h2v1h-2zM310 113h28v1h-28zM371 113h2v1h-2zM406 113h4v1h-4zM433 113h13v1h-13zM539 90h2v1h-2zM674 90h3v1h-3zM738 90h6v1h-6zM790 90h6v1h-6zM858 90h2v1h-2zM290 114h3v1h-3zM300 114h10v1h-10zM338 114h8v1h-8zM368 114h3v1h-3zM410 114h23v1h-23zM279 116h2v1h-2zM354 116h12v1h-12zM502 97h5v1h-5zM824 97h18v1h-18zM9 211h2v1h-2zM523 92h5v1h-5zM680 92h2v1h-2zM728 92h5v1h-5zM802 92h4v1h-4zM854 92h2v1h-2zM555 87h8v1h-8zM664 87h4v1h-4zM863 87h2v1h-2zM507 96h3v1h-3zM820 96h4v1h-4zM842 96h4v1h-4zM376 111h26v1h-26zM452 111h8v1h-8zM914 47h4v1h-4zM928 47h2v1h-2zM80 314h2v1h-2zM90 323h2v1h-2zM103 323h3v1h-3zM546 88h9v1h-9zM668 88h4v1h-4zM754 88h33v1h-33zM918 46h10v1h-10zM293 115h7v1h-7zM346 115h8v1h-8zM366 115h2v1h-2zM541 89h5v1h-5zM672 89h2v1h-2zM744 89h10v1h-10zM787 89h3v1h-3zM860 89h2v1h-2zM528 91h11v1h-11zM677 91h3v1h-3zM733 91h5v1h-5zM796 91h6v1h-6zM856 91h2v1h-2zM589 83h7v1h-7zM646 83h2v1h-2zM869 83h2v1h-2zM92 324h4v1h-4zM100 324h3v1h-3zM4 207h2v1h-2zM910 49h2v1h-2zM933 49h3v1h-3zM106 322h2v1h-2zM893 64h2v1h-2zM966 64h2v1h-2zM286 112h2v1h-2zM373 112h3v1h-3zM402 112h4v1h-4zM446 112h6v1h-6zM912 48h2v1h-2zM930 48h3v1h-3zM585 84h4v1h-4zM648 84h4v1h-4zM111 318h2v1h-2zM968 65h2v1h-2zM962 62h2v1h-2zM954 58h2v1h-2zM482 104h2v1h-2zM908 50h2v1h-2zM936 50h3v1h-3zM952 57h2v1h-2zM945 54h3v1h-3zM939 51h2v1h-2zM964 63h2v1h-2zM460 110h7v1h-7zM467 109h4v1h-4zM980 69h5v1h-5zM96 325h4v1h-4zM487 102h3v1h-3zM497 98h5v1h-5zM492 100h3v1h-3zM874 79h2v1h-2zM130 300h2v1h-2zM203 213h2v1h-2zM889 67h2v1h-2zM972 67h4v1h-4zM960 61h2v1h-2zM474 107h2v1h-2zM479 105h3v1h-3zM985 70h3v1h-3zM884 71h2v1h-2zM941 52h2v1h-2zM904 53h2v1h-2zM943 53h2v1h-2zM976 68h4v1h-4zM490 101h2v1h-2zM879 75h2v1h-2zM484 103h3v1h-3zM471 108h3v1h-3zM956 59h2v1h-2zM958 60h2v1h-2zM950 56h2v1h-2zM495 99h2v1h-2zM970 66h2v1h-2zM476 106h3v1h-3zM218 190h1v2h-1zM49 269h1v2h-1zM86 319h1v1h-1zM57 283h1v2h-1zM207 209h1v2h-1zM176 239h1v2h-1zM210 204h1v2h-1zM164 256h1v1h-1zM246 155h1v1h-1zM899 58h1v2h-1zM23 226h1v1h-1zM31 238h1v2h-1zM39 251h1v2h-1zM231 175h1v1h-1zM135 296h1v1h-1zM24 227h1v1h-1zM147 279h1v1h-1zM214 198h1v2h-1zM238 165h1v1h-1zM128 302h1v1h-1zM273 122h1v1h-1zM195 221h1v1h-1zM132 299h1v1h-1zM155 269h1v2h-1zM63 294h1v2h-1zM167 252h1v2h-1zM52 274h1v2h-1zM902 55h1v1h-1zM258 142h1v1h-1zM16 218h1v1h-1zM45 262h1v2h-1zM53 276h1v2h-1zM116 314h1v1h-1zM74 308h1v1h-1zM56 281h1v2h-1zM183 233h1v1h-1zM46 264h1v1h-1zM253 148h1v1h-1zM27 232h1v1h-1zM30 236h1v2h-1zM234 170h1v2h-1zM266 131h1v2h-1zM269 127h1v2h-1zM159 262h1v1h-1zM202 214h1v1h-1zM66 299h1v1h-1zM261 138h1v1h-1zM55 280h1v1h-1zM206 211h1v1h-1zM151 275h1v1h-1zM59 287h1v2h-1zM67 300h1v1h-1zM906 52h1v1h-1zM48 267h1v2h-1zM277 118h1v1h-1zM123 307h1v1h-1zM44 260h1v2h-1zM170 248h1v2h-1zM190 226h1v1h-1zM26 230h1v2h-1zM162 258h1v2h-1zM154 271h1v2h-1zM62 292h1v2h-1zM248 153h1v1h-1zM217 192h1v2h-1zM284 112h1v1h-1zM15 216h1v2h-1zM47 265h1v2h-1zM862 88h1v1h-1zM40 253h1v2h-1zM197 219h1v1h-1zM25 228h1v2h-1zM213 200h1v1h-1zM33 241h1v2h-1zM158 263h1v2h-1zM41 255h1v1h-1zM225 183h1v1h-1zM34 243h1v1h-1zM237 166h1v1h-1zM257 143h1v2h-1zM260 139h1v2h-1zM138 291h1v2h-1zM37 248h1v1h-1zM118 312h1v1h-1zM185 231h1v1h-1zM58 285h1v2h-1zM61 290h1v2h-1zM166 254h1v1h-1zM877 77h1v1h-1zM178 237h1v1h-1zM54 278h1v2h-1zM245 156h1v1h-1zM892 65h1v1h-1zM881 74h1v1h-1zM51 272h1v2h-1zM149 277h1v1h-1zM161 260h1v1h-1zM87 320h1v1h-1zM36 246h1v2h-1zM18 220h1v1h-1zM228 179h1v2h-1zM275 120h1v1h-1zM76 310h1v1h-1zM240 162h1v1h-1zM29 235h1v1h-1zM88 321h1v1h-1zM243 158h1v2h-1zM134 297h1v1h-1zM77 311h1v1h-1zM272 123h1v1h-1zM169 250h1v1h-1zM901 56h1v1h-1zM172 245h1v2h-1zM255 146h1v1h-1zM68 301h1v1h-1zM220 188h1v1h-1zM50 271h1v1h-1zM209 206h1v1h-1zM896 62h1v1h-1zM252 149h1v1h-1zM69 302h1v1h-1zM236 167h1v2h-1zM32 240h1v1h-1zM75 309h1v1h-1zM137 293h1v1h-1zM35 244h1v2h-1zM43 258h1v2h-1zM216 194h1v2h-1zM28 233h1v2h-1zM263 135h1v2h-1zM153 273h1v1h-1zM141 286h1v2h-1zM144 282h1v1h-1zM125 305h1v1h-1zM192 224h1v1h-1zM212 201h1v2h-1zM157 265h1v2h-1zM122 308h1v1h-1zM227 181h1v1h-1zM17 219h1v1h-1zM239 163h1v2h-1zM140 288h1v2h-1zM109 320h1v1h-1zM42 256h1v2h-1zM113 317h1v1h-1zM250 151h1v1h-1zM868 84h1v1h-1zM883 72h1v1h-1zM872 81h1v1h-1zM283 113h1v1h-1zM876 78h1v1h-1zM199 217h1v1h-1zM82 315h1v1h-1zM281 115h1v1h-1zM83 316h1v1h-1zM215 196h1v2h-1zM160 261h1v1h-1zM72 306h1v1h-1zM271 124h1v2h-1zM38 249h1v2h-1zM274 121h1v1h-1zM903 54h1v1h-1zM120 310h1v1h-1zM6 208h1v1h-1zM187 229h1v1h-1zM89 322h1v1h-1zM907 51h1v1h-1zM222 186h1v1h-1zM156 267h1v2h-1zM887 69h1v1h-1zM168 251h1v1h-1zM247 154h1v1h-1zM136 294h1v2h-1zM891 66h1v1h-1zM64 296h1v2h-1zM148 278h1v1h-1zM230 176h1v2h-1zM175 241h1v1h-1zM242 160h1v1h-1zM895 63h1v1h-1zM70 303h1v2h-1zM71 305h1v1h-1zM143 283h1v2h-1zM127 303h1v1h-1zM194 222h1v1h-1zM262 137h1v1h-1zM78 312h1v1h-1zM898 60h1v1h-1zM254 147h1v1h-1zM219 189h1v1h-1zM115 315h1v1h-1zM182 234h1v1h-1zM139 290h1v1h-1zM163 257h1v1h-1zM108 321h1v1h-1zM19 221h1v1h-1zM265 133h1v1h-1zM146 280h1v1h-1zM285 111h1v1h-1zM20 222h1v1h-1zM878 76h1v1h-1zM867 85h1v1h-1zM124 306h1v1h-1zM171 247h1v1h-1zM871 82h1v1h-1zM11 212h1v1h-1zM198 218h1v1h-1zM189 227h1v1h-1zM12 213h1v1h-1zM233 172h1v1h-1zM268 129h1v1h-1zM249 152h1v1h-1zM882 73h1v1h-1zM174 242h1v2h-1zM201 215h1v1h-1zM886 70h1v1h-1zM205 212h1v1h-1zM226 182h1v1h-1zM229 178h1v1h-1zM241 161h1v1h-1zM119 311h1v1h-1zM224 184h1v1h-1zM186 230h1v1h-1zM256 145h1v1h-1zM22 225h1v1h-1zM73 307h1v1h-1zM7 209h1v1h-1zM150 276h1v1h-1zM208 207h1v2h-1zM165 255h1v1h-1zM8 210h1v1h-1zM897 61h1v1h-1zM232 173h1v2h-1zM177 238h1v1h-1zM276 119h1v1h-1zM244 157h1v1h-1zM196 220h1v1h-1zM84 317h1v1h-1zM126 304h1v1h-1zM193 223h1v1h-1zM142 285h1v1h-1zM21 223h1v2h-1zM221 187h1v1h-1zM110 319h1v1h-1zM900 57h1v1h-1zM184 232h1v1h-1zM114 316h1v1h-1zM181 235h1v1h-1zM65 298h1v1h-1zM129 301h1v1h-1zM133 298h1v1h-1zM2 205h1v1h-1zM264 134h1v1h-1zM145 281h1v1h-1zM3 206h1v1h-1zM14 215h1v1h-1zM259 141h1v1h-1zM873 80h1v1h-1zM117 313h1v1h-1zM173 244h1v1h-1zM79 313h1v1h-1zM191 225h1v1h-1zM211 203h1v1h-1zM235 169h1v1h-1zM251 150h1v1h-1zM152 274h1v1h-1zM267 130h1v1h-1zM888 68h1v1h-1zM200 216h1v1h-1zM278 117h1v1h-1zM282 114h1v1h-1zM121 309h1v1h-1zM188 228h1v1h-1zM60 289h1v1h-1zM13 214h1v1h-1zM223 185h1v1h-1zM270 126h1v1h-1zM85 318h1v1h-1z"/>
<path shape-rendering="crispEdges" fill="#000" d="M96 351h2v1h-2zM101 351h2v1h-2zM379 123h46v1h-46zM443 123h20v1h-20zM485 123h7v1h-7zM542 96h5v1h-5zM556 96h8v1h-8zM602 96h5v1h-5zM632 96h4v1h-4zM501 117h2v1h-2zM802 117h3v1h-3zM812 117h27v1h-27zM288 138h2v1h-2zM319 138h42v1h-42zM528 104h2v1h-2zM654 104h2v1h-2zM672 104h6v1h-6zM949 104h2v1h-2zM498 119h2v1h-2zM841 119h3v1h-3zM50 373h9v1h-9zM77 373h3v1h-3zM612 93h12v1h-12zM532 102h2v1h-2zM650 102h2v1h-2zM681 102h19v1h-19zM719 102h9v1h-9zM737 102h28v1h-28zM377 124h2v1h-2zM463 124h3v1h-3zM474 124h11v1h-11zM540 97h2v1h-2zM564 97h4v1h-4zM596 97h6v1h-6zM636 97h3v1h-3zM648 101h2v1h-2zM700 101h19v1h-19zM728 101h2v1h-2zM733 101h4v1h-4zM765 101h4v1h-4zM780 101h2v1h-2zM121 362h2v1h-2zM127 362h3v1h-3zM519 106h5v1h-5zM954 106h2v1h-2zM983 106h3v1h-3zM434 121h5v1h-5zM494 121h2v1h-2zM848 121h4v1h-4zM307 137h12v1h-12zM361 137h2v1h-2zM538 98h2v1h-2zM568 98h28v1h-28zM639 98h4v1h-4zM198 262h2v1h-2zM216 262h2v1h-2zM530 103h2v1h-2zM652 103h2v1h-2zM678 103h3v1h-3zM947 103h2v1h-2zM142 355h2v1h-2zM118 360h2v1h-2zM133 360h2v1h-2zM203 259h2v1h-2zM858 127h9v1h-9zM466 125h8v1h-8zM868 125h2v1h-2zM123 363h4v1h-4zM206 256h2v1h-2zM536 99h2v1h-2zM643 99h3v1h-3zM774 99h4v1h-4zM116 359h2v1h-2zM135 359h2v1h-2zM513 109h2v1h-2zM962 109h4v1h-4zM971 109h6v1h-6zM211 263h5v1h-5zM515 108h2v1h-2zM959 108h3v1h-3zM977 108h3v1h-3zM425 122h9v1h-9zM439 122h4v1h-4zM492 122h2v1h-2zM872 122h2v1h-2zM805 118h7v1h-7zM839 118h2v1h-2zM878 118h2v1h-2zM646 100h2v1h-2zM730 100h3v1h-3zM769 100h5v1h-5zM778 100h2v1h-2zM517 107h2v1h-2zM956 107h3v1h-3zM980 107h3v1h-3zM108 356h2v1h-2zM140 356h2v1h-2zM524 105h4v1h-4zM656 105h16v1h-16zM951 105h3v1h-3zM986 105h2v1h-2zM796 115h3v1h-3zM883 115h2v1h-2zM547 95h9v1h-9zM607 95h2v1h-2zM628 95h4v1h-4zM785 111h2v1h-2zM301 142h2v1h-2zM789 113h3v1h-3zM887 113h2v1h-2zM130 361h3v1h-3zM916 76h2v1h-2zM799 116h3v1h-3zM881 116h2v1h-2zM111 358h5v1h-5zM137 358h2v1h-2zM62 375h13v1h-13zM104 353h2v1h-2zM505 114h2v1h-2zM792 114h4v1h-4zM885 114h2v1h-2zM918 75h2v1h-2zM924 75h2v1h-2zM48 372h2v1h-2zM511 110h2v1h-2zM783 110h2v1h-2zM966 110h5v1h-5zM59 374h3v1h-3zM75 374h2v1h-2zM295 143h6v1h-6zM368 133h2v1h-2zM609 94h3v1h-3zM624 94h4v1h-4zM856 126h2v1h-2zM200 261h2v1h-2zM218 261h2v1h-2zM496 120h2v1h-2zM844 120h4v1h-4zM875 120h2v1h-2zM920 74h2v1h-2zM244 240h2v1h-2zM290 139h2v1h-2zM508 112h2v1h-2zM787 112h2v1h-2zM889 112h2v1h-2zM363 136h2v1h-2zM233 246h2v1h-2zM370 132h2v1h-2zM241 242h2v1h-2zM366 134h2v1h-2zM237 244h2v1h-2zM239 243h2v1h-2zM235 245h2v1h-2zM43 366h1v2h-1zM28 322h1v5h-1zM8 264h1v2h-1zM285 145h1v3h-1zM11 270h1v2h-1zM36 353h1v2h-1zM174 306h1v2h-1zM232 247h1v1h-1zM189 276h1v2h-1zM264 207h1v2h-1zM943 97h1v2h-1zM25 306h1v6h-1zM272 182h1v4h-1zM202 260h1v1h-1zM32 342h1v3h-1zM107 355h1v1h-1zM208 257h1v2h-1zM193 268h1v3h-1zM88 360h1v2h-1zM18 286h1v2h-1zM173 308h1v2h-1zM153 340h1v2h-1zM928 79h1v2h-1zM185 283h1v1h-1zM906 88h1v2h-1zM209 259h1v2h-1zM165 323h1v2h-1zM276 169h1v3h-1zM376 125h1v1h-1zM224 256h1v1h-1zM280 157h1v3h-1zM42 364h1v2h-1zM935 88h1v1h-1zM292 140h1v1h-1zM39 359h1v2h-1zM904 91h1v2h-1zM84 367h1v1h-1zM169 316h1v1h-1zM893 108h1v2h-1zM149 346h1v2h-1zM936 89h1v1h-1zM181 289h1v2h-1zM7 262h1v2h-1zM251 233h1v1h-1zM946 102h1v1h-1zM35 351h1v2h-1zM275 172h1v4h-1zM279 160h1v3h-1zM900 98h1v2h-1zM156 336h1v1h-1zM912 80h1v2h-1zM258 222h1v2h-1zM31 338h1v4h-1zM24 301h1v5h-1zM284 148h1v2h-1zM271 186h1v3h-1zM227 252h1v1h-1zM263 209h1v3h-1zM287 140h1v3h-1zM896 105h1v1h-1zM38 357h1v2h-1zM10 268h1v2h-1zM243 241h1v1h-1zM877 119h1v1h-1zM254 229h1v1h-1zM30 333h1v5h-1zM192 271h1v3h-1zM270 189h1v4h-1zM103 352h1v1h-1zM87 362h1v1h-1zM172 310h1v2h-1zM262 212h1v3h-1zM17 284h1v2h-1zM500 118h1v1h-1zM782 104h1v4h-1zM504 115h1v1h-1zM83 368h1v2h-1zM168 317h1v2h-1zM41 363h1v1h-1zM44 368h1v1h-1zM95 352h1v1h-1zM196 264h1v1h-1zM9 266h1v2h-1zM37 355h1v2h-1zM45 369h1v1h-1zM6 260h1v2h-1zM99 349h1v1h-1zM907 86h1v2h-1zM152 342h1v1h-1zM27 317h1v5h-1zM90 358h1v1h-1zM899 100h1v1h-1zM164 325h1v1h-1zM375 126h1v2h-1zM305 139h1v1h-1zM3 254h1v2h-1zM16 281h1v3h-1zM184 284h1v2h-1zM903 93h1v2h-1zM274 176h1v3h-1zM286 143h1v2h-1zM927 77h1v2h-1zM930 83h1v1h-1zM207 255h1v1h-1zM253 230h1v2h-1zM265 205h1v2h-1zM188 278h1v1h-1zM931 84h1v1h-1zM191 274h1v1h-1zM40 361h1v2h-1zM180 291h1v2h-1zM269 193h1v5h-1zM23 297h1v4h-1zM231 248h1v1h-1zM293 141h1v1h-1zM5 258h1v2h-1zM937 90h1v1h-1zM294 142h1v1h-1zM139 357h1v1h-1zM34 348h1v3h-1zM283 150h1v2h-1zM938 91h1v1h-1zM853 123h1v1h-1zM179 293h1v3h-1zM2 253h1v1h-1zM534 101h1v1h-1zM926 76h1v1h-1zM781 102h1v2h-1zM26 312h1v5h-1zM86 363h1v2h-1zM261 215h1v3h-1zM895 106h1v1h-1zM151 343h1v2h-1zM148 348h1v1h-1zM273 179h1v3h-1zM146 351h1v1h-1zM155 337h1v2h-1zM158 333h1v2h-1zM852 122h1v1h-1zM260 218h1v2h-1zM229 250h1v1h-1zM206 257h1v1h-1zM195 265h1v2h-1zM120 361h1v1h-1zM187 279h1v2h-1zM929 81h1v2h-1zM29 327h1v6h-1zM178 296h1v3h-1zM278 163h1v3h-1zM256 226h1v2h-1zM268 198h1v3h-1zM282 152h1v2h-1zM171 312h1v2h-1zM89 359h1v1h-1zM510 111h1v1h-1zM47 371h1v1h-1zM277 166h1v3h-1zM4 256h1v2h-1zM902 95h1v1h-1zM922 73h1v1h-1zM281 154h1v3h-1zM167 319h1v2h-1zM914 78h1v1h-1zM503 116h1v1h-1zM15 279h1v2h-1zM85 365h1v2h-1zM909 84h1v1h-1zM898 101h1v2h-1zM92 355h1v2h-1zM80 372h1v1h-1zM221 259h1v1h-1zM12 272h1v3h-1zM933 86h1v1h-1zM22 295h1v2h-1zM304 140h1v1h-1zM870 124h1v1h-1zM161 329h1v1h-1zM372 130h1v2h-1zM874 121h1v1h-1zM177 299h1v2h-1zM252 232h1v1h-1zM145 352h1v2h-1zM190 275h1v1h-1zM14 277h1v2h-1zM932 85h1v1h-1zM46 370h1v1h-1zM100 350h1v1h-1zM154 339h1v1h-1zM186 281h1v2h-1zM905 90h1v1h-1zM854 124h1v1h-1zM897 103h1v2h-1zM255 228h1v1h-1zM783 108h1v2h-1zM855 125h1v1h-1zM267 201h1v2h-1zM892 110h1v1h-1zM901 96h1v2h-1zM157 335h1v1h-1zM247 238h1v1h-1zM250 234h1v1h-1zM160 330h1v2h-1zM259 220h1v2h-1zM228 251h1v1h-1zM21 293h1v2h-1zM197 263h1v1h-1zM939 92h1v1h-1zM223 257h1v1h-1zM306 138h1v1h-1zM176 301h1v3h-1zM110 357h1v1h-1zM913 79h1v1h-1zM911 82h1v1h-1zM923 74h1v1h-1zM908 85h1v1h-1zM82 370h1v1h-1zM942 96h1v1h-1zM144 354h1v1h-1zM91 357h1v1h-1zM94 353h1v1h-1zM13 275h1v2h-1zM880 117h1v1h-1zM106 354h1v1h-1zM163 326h1v2h-1zM374 128h1v1h-1zM20 291h1v2h-1zM535 100h1v1h-1zM266 203h1v2h-1zM941 94h1v2h-1zM33 345h1v3h-1zM147 349h1v2h-1zM226 253h1v1h-1zM945 100h1v2h-1zM249 235h1v2h-1zM175 304h1v2h-1zM507 113h1v1h-1zM98 350h1v1h-1zM210 261h1v2h-1zM246 239h1v1h-1zM934 87h1v1h-1zM183 286h1v1h-1zM19 288h1v3h-1zM222 258h1v1h-1zM170 314h1v2h-1zM891 111h1v1h-1zM230 249h1v1h-1zM166 321h1v2h-1zM225 254h1v2h-1zM194 267h1v1h-1zM257 224h1v2h-1zM940 93h1v1h-1zM944 99h1v1h-1zM867 126h1v1h-1zM365 135h1v1h-1zM182 287h1v2h-1zM159 332h1v1h-1zM871 123h1v1h-1zM915 77h1v1h-1zM910 83h1v1h-1zM205 258h1v1h-1zM81 371h1v1h-1zM93 354h1v1h-1zM248 237h1v1h-1zM288 139h1v1h-1zM894 107h1v1h-1zM150 345h1v1h-1zM162 328h1v1h-1zM220 260h1v1h-1zM373 129h1v1h-1zM303 141h1v1h-1z"/>
<g shape-rendering="crispEdges">
<rect x="3" y="231" width="1" height="25" fill="#000"/>
<rect x="2" y="241" width="3" height="15" fill="#000"/>
<rect x="7" y="244" width="1" height="17" fill="#000"/>
<rect x="6" y="248" width="3" height="6" fill="#000"/>
<rect x="11" y="250" width="1" height="19" fill="#000"/>
<rect x="10" y="252" width="3" height="17" fill="#000"/>
<rect x="15" y="262" width="1" height="17" fill="#000"/>
<rect x="14" y="266" width="3" height="13" fill="#000"/>
<rect x="19" y="278" width="1" height="10" fill="#000"/>
<rect x="18" y="279" width="3" height="5" fill="#000"/>
<rect x="23" y="276" width="1" height="48" fill="#000"/>
<rect x="22" y="283" width="3" height="26" fill="#000"/>
<rect x="27" y="304" width="1" height="31" fill="#000"/>
<rect x="26" y="309" width="3" height="22" fill="#000"/>
<rect x="31" y="321" width="1" height="26" fill="#000"/>
<rect x="30" y="330" width="3" height="9" fill="#000"/>
<rect x="35" y="331" width="1" height="13" fill="#000"/>
<rect x="34" y="338" width="3" height="2" fill="#000"/>
<rect x="39" y="326" width="1" height="10" fill="#000"/>
<rect x="38" y="328" width="3" height="1" fill="#000"/>
<rect x="43" y="319" width="1" height="23" fill="#000"/>
<rect x="42" y="328" width="3" height="1" fill="#000"/>
<rect x="47" y="319" width="1" height="26" fill="#000"/>
<rect x="46" y="328" width="3" height="8" fill="#000"/>
<rect x="51" y="312" width="1" height="35" fill="#000"/>
<rect x="50" y="327" width="3" height="8" fill="#000"/>
<rect x="51" y="328" width="1" height="6" fill="#fff"/>
<rect x="55" y="316" width="1" height="17" fill="#000"/>
<rect x="54" y="327" width="3" height="5" fill="#000"/>
<rect x="59" y="329" width="1" height="10" fill="#000"/>
<rect x="58" y="333" width="3" height="3" fill="#000"/>
<rect x="63" y="330" width="1" height="37" fill="#000"/>
<rect x="62" y="335" width="3" height="1" fill="#000"/>
<rect x="67" y="325" width="1" height="15" fill="#000"/>
<rect x="66" y="332" width="3" height="4" fill="#000"/>
<rect x="67" y="333" width="1" height="2" fill="#fff"/>
<rect x="71" y="328" width="1" height="19" fill="#000"/>
<rect x="70" y="332" width="3" height="5" fill="#000"/>
<rect x="75" y="321" width="1" height="21" fill="#000"/>
<rect x="74" y="322" width="3" height="15" fill="#000"/>
<rect x="75" y="323" width="1" height="13" fill="#fff"/>
<rect x="79" y="324" width="1" height="8" fill="#000"/>
<rect x="78" y="328" width="3" height="3" fill="#000"/>
<rect x="79" y="329" width="1" height="1" fill="#fff"/>
<rect x="83" y="325" width="1" height="11" fill="#000"/>
<rect x="82" y="327" width="3" height="2" fill="#000"/>
<rect x="87" y="304" width="1" height="31" fill="#000"/>
<rect x="86" y="311" width="3" height="16" fill="#000"/>
<rect x="87" y="312" width="1" height="14" fill="#fff"/>
<rect x="91" y="297" width="1" height="14" fill="#000"/>
<rect x="90" y="302" width="3" height="9" fill="#000"/>
<rect x="91" y="303" width="1" height="7" fill="#fff"/>
<rect x="95" y="293" width="1" height="16" fill="#000"/>
<rect x="94" y="302" width="3" height="3" fill="#000"/>
<rect x="99" y="297" width="1" height="17" fill="#000"/>
<rect x="98" y="302" width="3" height="4" fill="#000"/>
<rect x="99" y="303" width="1" height="2" fill="#fff"/>
<rect x="103" y="286" width="1" height="8" fill="#000"/>
<rect x="102" y="286" width="3" height="6" fill="#000"/>
<rect x="103" y="287" width="1" height="4" fill="#fff"/>
<rect x="107" y="282" width="1" height="9" fill="#000"/>
<rect x="106" y="286" width="3" height="1" fill="#000"/>
<rect x="111" y="267" width="1" height="26" fill="#000"/>
<rect x="110" y="268" width="3" height="18" fill="#000"/>
<rect x="111" y="269" width="1" height="16" fill="#fff"/>
<rect x="115" y="265" width="1" height="10" fill="#000"/>
<rect x="114" y="269" width="3" height="1" fill="#000"/>
<rect x="119" y="256" width="1" height="19" fill="#000"/>
<rect x="118" y="262" width="3" height="7" fill="#000"/>
<rect x="119" y="263" width="1" height="5" fill="#fff"/>
<rect x="123" y="244" width="1" height="22" fill="#000"/>
<rect x="122" y="245" width="3" height="18" fill="#000"/>
<rect x="123" y="246" width="1" height="16" fill="#fff"/>
<rect x="127" y="250" width="1" height="13" fill="#000"/>
<rect x="126" y="255" width="3" height="3" fill="#000"/>
<rect x="127" y="256" width="1" height="1" fill="#fff"/>
<rect x="131" y="234" width="1" height="46" fill="#000"/>
<rect x="130" y="254" width="3" height="5" fill="#000"/>
<rect x="135" y="243" width="1" height="59" fill="#000"/>
<rect x="134" y="251" width="3" height="8" fill="#000"/>
<rect x="135" y="252" width="1" height="6" fill="#fff"/>
<rect x="139" y="230" width="1" height="36" fill="#000"/>
<rect x="138" y="238" width="3" height="13" fill="#000"/>
<rect x="139" y="239" width="1" height="11" fill="#fff"/>
<rect x="143" y="220" width="1" height="34" fill="#000"/>
<rect x="142" y="224" width="3" height="14" fill="#000"/>
<rect x="143" y="225" width="1" height="12" fill="#fff"/>
<rect x="147" y="223" width="1" height="13" fill="#000"/>
<rect x="146" y="224" width="3" height="7" fill="#000"/>
<rect x="151" y="227" width="1" height="5" fill="#000"/>
<rect x="150" y="229" width="3" height="1" fill="#000"/>
<rect x="155" y="216" width="1" height="20" fill="#000"/>
<rect x="154" y="216" width="3" height="14" fill="#000"/>
<rect x="155" y="217" width="1" height="12" fill="#fff"/>
<rect x="159" y="203" width="1" height="23" fill="#000"/>
<rect x="158" y="208" width="3" height="9" fill="#000"/>
<rect x="159" y="209" width="1" height="7" fill="#fff"/>
<rect x="163" y="193" width="1" height="18" fill="#000"/>
<rect x="162" y="199" width="3" height="9" fill="#000"/>
<rect x="163" y="200" width="1" height="7" fill="#fff"/>
<rect x="167" y="187" width="1" height="17" fill="#000"/>
<rect x="166" y="196" width="3" height="4" fill="#000"/>
<rect x="167" y="197" width="1" height="2" fill="#fff"/>
<rect x="171" y="193" width="1" height="9" fill="#000"/>
<rect x="170" y="196" width="3" height="1" fill="#000"/>
<rect x="175" y="200" width="1" height="7" fill="#000"/>
<rect x="174" y="200" width="3" height="7" fill="#000"/>
<rect x="175" y="201" width="1" height="5" fill="#fff"/>
<rect x="179" y="199" width="1" height="11" fill="#000"/>
<rect x="178" y="200" width="3" height="6" fill="#000"/>
<rect x="183" y="187" width="1" height="32" fill="#000"/>
<rect x="182" y="205" width="3" height="13" fill="#000"/>
<rect x="187" y="199" width="1" height="21" fill="#000"/>
<rect x="186" y="199" width="3" height="19" fill="#000"/>
<rect x="187" y="200" width="1" height="17" fill="#fff"/>
<rect x="191" y="190" width="1" height="17" fill="#000"/>
<rect x="190" y="199" width="3" height="3" fill="#000"/>
<rect x="195" y="194" width="1" height="12" fill="#000"/>
<rect x="194" y="198" width="3" height="4" fill="#000"/>
<rect x="195" y="199" width="1" height="2" fill="#fff"/>
<rect x="199" y="175" width="1" height="8" fill="#000"/>
<rect x="198" y="177" width="3" height="4" fill="#000"/>
<rect x="203" y="169" width="1" height="12" fill="#000"/>
<rect x="202" y="173" width="3" height="8" fill="#000"/>
<rect x="203" y="174" width="1" height="6" fill="#fff"/>
<rect x="207" y="163" width="1" height="15" fill="#000"/>
<rect x="206" y="173" width="3" height="1" fill="#000"/>
<rect x="211" y="88" width="1" height="86" fill="#000"/>
<rect x="210" y="101" width="3" height="73" fill="#000"/>
<rect x="211" y="102" width="1" height="71" fill="#fff"/>
<rect x="215" y="92" width="1" height="31" fill="#000"/>
<rect x="214" y="101" width="3" height="13" fill="#000"/>
<rect x="219" y="111" width="1" height="21" fill="#000"/>
<rect x="218" y="114" width="3" height="17" fill="#000"/>
<rect x="223" y="133" width="1" height="6" fill="#000"/>
<rect x="222" y="135" width="3" height="3" fill="#000"/>
<rect x="223" y="136" width="1" height="1" fill="#fff"/>
<rect x="227" y="131" width="1" height="18" fill="#000"/>
<rect x="226" y="135" width="3" height="7" fill="#000"/>
<rect x="231" y="110" width="1" height="33" fill="#000"/>
<rect x="230" y="118" width="3" height="24" fill="#000"/>
<rect x="231" y="119" width="1" height="22" fill="#fff"/>
<rect x="235" y="108" width="1" height="18" fill="#000"/>
<rect x="234" y="108" width="3" height="10" fill="#000"/>
<rect x="235" y="109" width="1" height="8" fill="#fff"/>
<rect x="239" y="96" width="1" height="18" fill="#000"/>
<rect x="238" y="104" width="3" height="5" fill="#000"/>
<rect x="239" y="105" width="1" height="3" fill="#fff"/>
<rect x="243" y="103" width="1" height="8" fill="#000"/>
<rect x="242" y="104" width="3" height="1" fill="#000"/>
<rect x="247" y="111" width="1" height="6" fill="#000"/>
<rect x="246" y="111" width="3" height="6" fill="#000"/>
<rect x="247" y="112" width="1" height="4" fill="#fff"/>
<rect x="251" y="105" width="1" height="8" fill="#000"/>
<rect x="250" y="107" width="3" height="5" fill="#000"/>
<rect x="251" y="108" width="1" height="3" fill="#fff"/>
<rect x="255" y="97" width="1" height="15" fill="#000"/>
<rect x="254" y="99" width="3" height="9" fill="#000"/>
<rect x="255" y="100" width="1" height="7" fill="#fff"/>
<rect x="259" y="95" width="1" height="8" fill="#000"/>
<rect x="258" y="99" width="3" height="1" fill="#000"/>
<rect x="263" y="96" width="1" height="7" fill="#000"/>
<rect x="262" y="98" width="3" height="1" fill="#000"/>
<rect x="267" y="97" width="1" height="11" fill="#000"/>
<rect x="266" y="98" width="3" height="1" fill="#000"/>
<rect x="271" y="102" width="1" height="5" fill="#000"/>
<rect x="270" y="104" width="3" height="1" fill="#000"/>
<rect x="275" y="104" width="1" height="13" fill="#000"/>
<rect x="274" y="105" width="3" height="3" fill="#000"/>
<rect x="279" y="106" width="1" height="16" fill="#000"/>
<rect x="278" y="108" width="3" height="1" fill="#000"/>
<rect x="283" y="107" width="1" height="21" fill="#000"/>
<rect x="282" y="108" width="3" height="16" fill="#000"/>
<rect x="287" y="118" width="1" height="19" fill="#000"/>
<rect x="286" y="123" width="3" height="11" fill="#000"/>
<rect x="291" y="131" width="1" height="9" fill="#000"/>
<rect x="290" y="132" width="3" height="2" fill="#000"/>
<rect x="295" y="134" width="1" height="6" fill="#000"/>
<rect x="294" y="134" width="3" height="5" fill="#000"/>
<rect x="299" y="129" width="1" height="12" fill="#000"/>
<rect x="298" y="131" width="3" height="8" fill="#000"/>
<rect x="299" y="132" width="1" height="6" fill="#fff"/>
<rect x="303" y="114" width="1" height="20" fill="#000"/>
<rect x="302" y="115" width="3" height="16" fill="#000"/>
<rect x="303" y="116" width="1" height="14" fill="#fff"/>
<rect x="307" y="110" width="1" height="15" fill="#000"/>
<rect x="306" y="115" width="3" height="4" fill="#000"/>
<rect x="311" y="113" width="1" height="10" fill="#000"/>
<rect x="310" y="117" width="3" height="2" fill="#000"/>
<rect x="315" y="111" width="1" height="8" fill="#000"/>
<rect x="314" y="113" width="3" height="4" fill="#000"/>
<rect x="315" y="114" width="1" height="2" fill="#fff"/>
<rect x="319" y="101" width="1" height="10" fill="#000"/>
<rect x="318" y="102" width="3" height="7" fill="#000"/>
<rect x="323" y="97" width="1" height="12" fill="#000"/>
<rect x="322" y="98" width="3" height="10" fill="#000"/>
<rect x="323" y="99" width="1" height="8" fill="#fff"/>
<rect x="327" y="97" width="1" height="22" fill="#000"/>
<rect x="326" y="98" width="3" height="9" fill="#000"/>
<rect x="331" y="90" width="1" height="23" fill="#000"/>
<rect x="330" y="99" width="3" height="8" fill="#000"/>
<rect x="331" y="100" width="1" height="6" fill="#fff"/>
<rect x="335" y="94" width="1" height="22" fill="#000"/>
<rect x="334" y="96" width="3" height="18" fill="#000"/>
<rect x="339" y="110" width="1" height="9" fill="#000"/>
<rect x="338" y="112" width="3" height="3" fill="#000"/>
<rect x="339" y="113" width="1" height="1" fill="#fff"/>
<rect x="343" y="113" width="1" height="6" fill="#000"/>
<rect x="342" y="114" width="3" height="5" fill="#000"/>
<rect x="347" y="114" width="1" height="5" fill="#000"/>
<rect x="346" y="117" width="3" height="1" fill="#000"/>
<rect x="351" y="109" width="1" height="11" fill="#000"/>
<rect x="350" y="112" width="3" height="7" fill="#000"/>
<rect x="351" y="113" width="1" height="5" fill="#fff"/>
<rect x="355" y="111" width="1" height="12" fill="#000"/>
<rect x="354" y="112" width="3" height="6" fill="#000"/>
<rect x="359" y="108" width="1" height="16" fill="#000"/>
<rect x="358" y="110" width="3" height="8" fill="#000"/>
<rect x="359" y="111" width="1" height="6" fill="#fff"/>
<rect x="363" y="106" width="1" height="8" fill="#000"/>
<rect x="362" y="110" width="3" height="1" fill="#000"/>
<rect x="367" y="112" width="1" height="5" fill="#000"/>
<rect x="366" y="113" width="3" height="3" fill="#000"/>
<rect x="371" y="111" width="1" height="8" fill="#000"/>
<rect x="370" y="114" width="3" height="4" fill="#000"/>
<rect x="375" y="107" width="1" height="14" fill="#000"/>
<rect x="374" y="109" width="3" height="9" fill="#000"/>
<rect x="375" y="110" width="1" height="7" fill="#fff"/>
<rect x="379" y="102" width="1" height="8" fill="#000"/>
<rect x="378" y="105" width="3" height="4" fill="#000"/>
<rect x="379" y="106" width="1" height="2" fill="#fff"/>
<rect x="383" y="99" width="1" height="12" fill="#000"/>
<rect x="382" y="105" width="3" height="1" fill="#000"/>
<rect x="387" y="103" width="1" height="12" fill="#000"/>
<rect x="386" y="105" width="3" height="9" fill="#000"/>
<rect x="391" y="115" width="1" height="4" fill="#000"/>
<rect x="390" y="116" width="3" height="1" fill="#000"/>
<rect x="395" y="115" width="1" height="7" fill="#000"/>
<rect x="394" y="116" width="3" height="1" fill="#000"/>
<rect x="399" y="112" width="1" height="11" fill="#000"/>
<rect x="398" y="116" width="3" height="4" fill="#000"/>
<rect x="403" y="113" width="1" height="13" fill="#000"/>
<rect x="402" y="114" width="3" height="6" fill="#000"/>
<rect x="403" y="115" width="1" height="4" fill="#fff"/>
<rect x="407" y="110" width="1" height="10" fill="#000"/>
<rect x="406" y="113" width="3" height="6" fill="#000"/>
<rect x="411" y="109" width="1" height="10" fill="#000"/>
<rect x="410" y="110" width="3" height="9" fill="#000"/>
<rect x="411" y="111" width="1" height="7" fill="#fff"/>
<rect x="415" y="117" width="1" height="3" fill="#000"/>
<rect x="414" y="118" width="3" height="1" fill="#000"/>
<rect x="419" y="116" width="1" height="5" fill="#000"/>
<rect x="418" y="118" width="3" height="1" fill="#000"/>
<rect x="423" y="110" width="1" height="14" fill="#000"/>
<rect x="422" y="112" width="3" height="7" fill="#000"/>
<rect x="423" y="113" width="1" height="5" fill="#fff"/>
<rect x="427" y="106" width="1" height="10" fill="#000"/>
<rect x="426" y="113" width="3" height="2" fill="#000"/>
<rect x="431" y="109" width="1" height="7" fill="#000"/>
<rect x="430" y="111" width="3" height="3" fill="#000"/>
<rect x="431" y="112" width="1" height="1" fill="#fff"/>
<rect x="435" y="108" width="1" height="7" fill="#000"/>
<rect x="434" y="111" width="3" height="3" fill="#000"/>
<rect x="439" y="104" width="1" height="4" fill="#000"/>
<rect x="438" y="104" width="3" height="3" fill="#000"/>
<rect x="443" y="103" width="1" height="6" fill="#000"/>
<rect x="442" y="104" width="3" height="3" fill="#000"/>
<rect x="443" y="105" width="1" height="1" fill="#fff"/>
<rect x="447" y="86" width="1" height="19" fill="#000"/>
<rect x="446" y="95" width="3" height="9" fill="#000"/>
<rect x="447" y="96" width="1" height="7" fill="#fff"/>
<rect x="451" y="91" width="1" height="17" fill="#000"/>
<rect x="450" y="94" width="3" height="12" fill="#000"/>
<rect x="455" y="100" width="1" height="14" fill="#000"/>
<rect x="454" y="105" width="3" height="2" fill="#000"/>
<rect x="459" y="99" width="1" height="10" fill="#000"/>
<rect x="458" y="105" width="3" height="2" fill="#000"/>
<rect x="463" y="96" width="1" height="3" fill="#000"/>
<rect x="462" y="96" width="3" height="3" fill="#000"/>
<rect x="467" y="92" width="1" height="7" fill="#000"/>
<rect x="466" y="95" width="3" height="3" fill="#000"/>
<rect x="471" y="93" width="1" height="11" fill="#000"/>
<rect x="470" y="94" width="3" height="2" fill="#000"/>
<rect x="475" y="91" width="1" height="8" fill="#000"/>
<rect x="474" y="92" width="3" height="4" fill="#000"/>
<rect x="475" y="93" width="1" height="2" fill="#fff"/>
<rect x="479" y="85" width="1" height="10" fill="#000"/>
<rect x="478" y="86" width="3" height="7" fill="#000"/>
<rect x="479" y="87" width="1" height="5" fill="#fff"/>
<rect x="483" y="84" width="1" height="5" fill="#000"/>
<rect x="482" y="85" width="3" height="2" fill="#000"/>
<rect x="487" y="77" width="1" height="4" fill="#000"/>
<rect x="486" y="79" width="3" height="1" fill="#000"/>
<rect x="491" y="78" width="1" height="14" fill="#000"/>
<rect x="490" y="79" width="3" height="13" fill="#000"/>
<rect x="495" y="81" width="1" height="15" fill="#000"/>
<rect x="494" y="91" width="3" height="2" fill="#000"/>
<rect x="499" y="89" width="1" height="9" fill="#000"/>
<rect x="498" y="91" width="3" height="2" fill="#000"/>
<rect x="503" y="86" width="1" height="12" fill="#000"/>
<rect x="502" y="86" width="3" height="7" fill="#000"/>
<rect x="503" y="87" width="1" height="5" fill="#fff"/>
<rect x="507" y="85" width="1" height="5" fill="#000"/>
<rect x="506" y="86" width="3" height="2" fill="#000"/>
<rect x="511" y="85" width="1" height="4" fill="#000"/>
<rect x="510" y="87" width="3" height="1" fill="#000"/>
<rect x="515" y="85" width="1" height="5" fill="#000"/>
<rect x="514" y="86" width="3" height="2" fill="#000"/>
<rect x="519" y="84" width="1" height="8" fill="#000"/>
<rect x="518" y="86" width="3" height="4" fill="#000"/>
<rect x="523" y="86" width="1" height="6" fill="#000"/>
<rect x="522" y="88" width="3" height="1" fill="#000"/>
<rect x="527" y="85" width="1" height="11" fill="#000"/>
<rect x="526" y="88" width="3" height="4" fill="#000"/>
<rect x="531" y="90" width="1" height="5" fill="#000"/>
<rect x="530" y="91" width="3" height="3" fill="#000"/>
<rect x="531" y="92" width="1" height="1" fill="#fff"/>
<rect x="535" y="91" width="1" height="3" fill="#000"/>
<rect x="534" y="91" width="3" height="3" fill="#000"/>
<rect x="539" y="89" width="1" height="8" fill="#000"/>
<rect x="538" y="90" width="3" height="4" fill="#000"/>
<rect x="539" y="91" width="1" height="2" fill="#fff"/>
<rect x="543" y="81" width="1" height="11" fill="#000"/>
<rect x="542" y="86" width="3" height="3" fill="#000"/>
<rect x="543" y="87" width="1" height="1" fill="#fff"/>
<rect x="547" y="84" width="1" height="7" fill="#000"/>
<rect x="546" y="85" width="3" height="2" fill="#000"/>
<rect x="551" y="78" width="1" height="9" fill="#000"/>
<rect x="550" y="81" width="3" height="5" fill="#000"/>
<rect x="551" y="82" width="1" height="3" fill="#fff"/>
<rect x="555" y="79" width="1" height="4" fill="#000"/>
<rect x="554" y="80" width="3" height="2" fill="#000"/>
<rect x="559" y="85" width="1" height="4" fill="#000"/>
<rect x="558" y="86" width="3" height="3" fill="#000"/>
<rect x="559" y="87" width="1" height="1" fill="#fff"/>
<rect x="563" y="85" width="1" height="11" fill="#000"/>
<rect x="562" y="86" width="3" height="10" fill="#000"/>
<rect x="567" y="75" width="1" height="24" fill="#000"/>
<rect x="566" y="79" width="3" height="16" fill="#000"/>
<rect x="567" y="80" width="1" height="14" fill="#fff"/>
<rect x="571" y="67" width="1" height="17" fill="#000"/>
<rect x="570" y="68" width="3" height="11" fill="#000"/>
<rect x="571" y="69" width="1" height="9" fill="#fff"/>
<rect x="575" y="67" width="1" height="27" fill="#000"/>
<rect x="574" y="68" width="3" height="19" fill="#000"/>
<rect x="579" y="82" width="1" height="8" fill="#000"/>
<rect x="578" y="86" width="3" height="2" fill="#000"/>
<rect x="583" y="74" width="1" height="4" fill="#000"/>
<rect x="582" y="74" width="3" height="4" fill="#000"/>
<rect x="583" y="75" width="1" height="2" fill="#fff"/>
<rect x="587" y="71" width="1" height="6" fill="#000"/>
<rect x="586" y="73" width="3" height="1" fill="#000"/>
<rect x="591" y="69" width="1" height="15" fill="#000"/>
<rect x="590" y="73" width="3" height="1" fill="#000"/>
<rect x="595" y="69" width="1" height="8" fill="#000"/>
<rect x="594" y="72" width="3" height="4" fill="#000"/>
<rect x="595" y="73" width="1" height="2" fill="#fff"/>
<rect x="599" y="71" width="1" height="9" fill="#000"/>
<rect x="598" y="72" width="3" height="5" fill="#000"/>
<rect x="603" y="74" width="1" height="7" fill="#000"/>
<rect x="602" y="75" width="3" height="2" fill="#000"/>
<rect x="607" y="82" width="1" height="4" fill="#000"/>
<rect x="606" y="82" width="3" height="3" fill="#000"/>
<rect x="611" y="80" width="1" height="6" fill="#000"/>
<rect x="610" y="83" width="3" height="1" fill="#000"/>
<rect x="615" y="77" width="1" height="14" fill="#000"/>
<rect x="614" y="83" width="3" height="1" fill="#000"/>
<rect x="619" y="80" width="1" height="14" fill="#000"/>
<rect x="618" y="83" width="3" height="8" fill="#000"/>
<rect x="623" y="84" width="1" height="8" fill="#000"/>
<rect x="622" y="87" width="3" height="4" fill="#000"/>
<rect x="623" y="88" width="1" height="2" fill="#fff"/>
<rect x="627" y="85" width="1" height="5" fill="#000"/>
<rect x="626" y="87" width="3" height="2" fill="#000"/>
<rect x="631" y="88" width="1" height="4" fill="#000"/>
<rect x="630" y="89" width="3" height="2" fill="#000"/>
<rect x="635" y="84" width="1" height="9" fill="#000"/>
<rect x="634" y="89" width="3" height="2" fill="#000"/>
<rect x="639" y="84" width="1" height="16" fill="#000"/>
<rect x="638" y="90" width="3" height="8" fill="#000"/>
<rect x="643" y="91" width="1" height="8" fill="#000"/>
<rect x="642" y="94" width="3" height="4" fill="#000"/>
<rect x="643" y="95" width="1" height="2" fill="#fff"/>
<rect x="647" y="92" width="1" height="5" fill="#000"/>
<rect x="646" y="94" width="3" height="1" fill="#000"/>
<rect x="651" y="94" width="1" height="12" fill="#000"/>
<rect x="650" y="94" width="3" height="10" fill="#000"/>
<rect x="655" y="98" width="1" height="5" fill="#000"/>
<rect x="654" y="99" width="3" height="2" fill="#000"/>
<rect x="659" y="95" width="1" height="7" fill="#000"/>
<rect x="658" y="96" width="3" height="5" fill="#000"/>
<rect x="659" y="97" width="1" height="3" fill="#fff"/>
<rect x="663" y="85" width="1" height="18" fill="#000"/>
<rect x="662" y="90" width="3" height="7" fill="#000"/>
<rect x="663" y="91" width="1" height="5" fill="#fff"/>
<rect x="667" y="89" width="1" height="10" fill="#000"/>
<rect x="666" y="90" width="3" height="6" fill="#000"/>
<rect x="671" y="89" width="1" height="7" fill="#000"/>
<rect x="670" y="89" width="3" height="7" fill="#000"/>
<rect x="671" y="90" width="1" height="5" fill="#fff"/>
<rect x="675" y="89" width="1" height="3" fill="#000"/>
<rect x="674" y="89" width="3" height="2" fill="#000"/>
<rect x="679" y="89" width="1" height="5" fill="#000"/>
<rect x="678" y="89" width="3" height="4" fill="#000"/>
<rect x="683" y="91" width="1" height="8" fill="#000"/>
<rect x="682" y="91" width="3" height="5" fill="#000"/>
<rect x="687" y="89" width="1" height="19" fill="#000"/>
<rect x="686" y="95" width="3" height="2" fill="#000"/>
<rect x="691" y="90" width="1" height="9" fill="#000"/>
<rect x="690" y="95" width="3" height="3" fill="#000"/>
<rect x="691" y="96" width="1" height="1" fill="#fff"/>
<rect x="695" y="89" width="1" height="9" fill="#000"/>
<rect x="694" y="92" width="3" height="4" fill="#000"/>
<rect x="695" y="93" width="1" height="2" fill="#fff"/>
<rect x="699" y="91" width="1" height="5" fill="#000"/>
<rect x="698" y="92" width="3" height="2" fill="#000"/>
<rect x="703" y="92" width="1" height="4" fill="#000"/>
<rect x="702" y="93" width="3" height="2" fill="#000"/>
<rect x="707" y="91" width="1" height="5" fill="#000"/>
<rect x="706" y="92" width="3" height="3" fill="#000"/>
<rect x="707" y="93" width="1" height="1" fill="#fff"/>
<rect x="711" y="90" width="1" height="9" fill="#000"/>
<rect x="710" y="93" width="3" height="1" fill="#000"/>
<rect x="715" y="93" width="1" height="10" fill="#000"/>
<rect x="714" y="94" width="3" height="1" fill="#000"/>
<rect x="719" y="88" width="1" height="11" fill="#000"/>
<rect x="718" y="89" width="3" height="7" fill="#000"/>
<rect x="719" y="90" width="1" height="5" fill="#fff"/>
<rect x="723" y="86" width="1" height="5" fill="#000"/>
<rect x="722" y="87" width="3" height="3" fill="#000"/>
<rect x="723" y="88" width="1" height="1" fill="#fff"/>
<rect x="727" y="84" width="1" height="3" fill="#000"/>
<rect x="726" y="85" width="3" height="1" fill="#000"/>
<rect x="731" y="81" width="1" height="5" fill="#000"/>
<rect x="730" y="83" width="3" height="3" fill="#000"/>
<rect x="731" y="84" width="1" height="1" fill="#fff"/>
<rect x="735" y="66" width="1" height="18" fill="#000"/>
<rect x="734" y="73" width="3" height="10" fill="#000"/>
<rect x="735" y="74" width="1" height="8" fill="#fff"/>
<rect x="739" y="70" width="1" height="8" fill="#000"/>
<rect x="738" y="73" width="3" height="1" fill="#000"/>
<rect x="743" y="74" width="1" height="12" fill="#000"/>
<rect x="742" y="74" width="3" height="9" fill="#000"/>
<rect x="747" y="81" width="1" height="10" fill="#000"/>
<rect x="746" y="82" width="3" height="2" fill="#000"/>
<rect x="751" y="82" width="1" height="4" fill="#000"/>
<rect x="750" y="83" width="3" height="2" fill="#000"/>
<rect x="755" y="81" width="1" height="5" fill="#000"/>
<rect x="754" y="83" width="3" height="1" fill="#000"/>
<rect x="759" y="78" width="1" height="11" fill="#000"/>
<rect x="758" y="81" width="3" height="4" fill="#000"/>
<rect x="759" y="82" width="1" height="2" fill="#fff"/>
<rect x="763" y="78" width="1" height="23" fill="#000"/>
<rect x="762" y="81" width="3" height="17" fill="#000"/>
<rect x="767" y="84" width="1" height="17" fill="#000"/>
<rect x="766" y="90" width="3" height="8" fill="#000"/>
<rect x="767" y="91" width="1" height="6" fill="#fff"/>
<rect x="771" y="88" width="1" height="6" fill="#000"/>
<rect x="770" y="89" width="3" height="3" fill="#000"/>
<rect x="771" y="90" width="1" height="1" fill="#fff"/>
<rect x="775" y="88" width="1" height="4" fill="#000"/>
<rect x="774" y="89" width="3" height="2" fill="#000"/>
<rect x="779" y="88" width="1" height="7" fill="#000"/>
<rect x="778" y="89" width="3" height="4" fill="#000"/>
<rect x="783" y="91" width="1" height="21" fill="#000"/>
<rect x="782" y="92" width="3" height="17" fill="#000"/>
<rect x="787" y="106" width="1" height="24" fill="#000"/>
<rect x="786" y="108" width="3" height="5" fill="#000"/>
<rect x="791" y="108" width="1" height="13" fill="#000"/>
<rect x="790" y="111" width="3" height="5" fill="#000"/>
<rect x="795" y="110" width="1" height="8" fill="#000"/>
<rect x="794" y="111" width="3" height="6" fill="#000"/>
<rect x="795" y="112" width="1" height="4" fill="#fff"/>
<rect x="799" y="100" width="1" height="4" fill="#000"/>
<rect x="798" y="100" width="3" height="3" fill="#000"/>
<rect x="803" y="102" width="1" height="9" fill="#000"/>
<rect x="802" y="102" width="3" height="6" fill="#000"/>
<rect x="807" y="94" width="1" height="15" fill="#000"/>
<rect x="806" y="97" width="3" height="11" fill="#000"/>
<rect x="807" y="98" width="1" height="9" fill="#fff"/>
<rect x="811" y="88" width="1" height="10" fill="#000"/>
<rect x="810" y="93" width="3" height="4" fill="#000"/>
<rect x="811" y="94" width="1" height="2" fill="#fff"/>
<rect x="815" y="89" width="1" height="12" fill="#000"/>
<rect x="814" y="93" width="3" height="6" fill="#000"/>
<rect x="819" y="98" width="1" height="6" fill="#000"/>
<rect x="818" y="99" width="3" height="3" fill="#000"/>
<rect x="823" y="99" width="1" height="5" fill="#000"/>
<rect x="822" y="100" width="3" height="2" fill="#000"/>
<rect x="827" y="98" width="1" height="8" fill="#000"/>
<rect x="826" y="100" width="3" height="2" fill="#000"/>
<rect x="831" y="82" width="1" height="21" fill="#000"/>
<rect x="830" y="84" width="3" height="16" fill="#000"/>
<rect x="831" y="85" width="1" height="14" fill="#fff"/>
<rect x="835" y="80" width="1" height="9" fill="#000"/>
<rect x="834" y="81" width="3" height="3" fill="#000"/>
<rect x="835" y="82" width="1" height="1" fill="#fff"/>
<rect x="839" y="74" width="1" height="12" fill="#000"/>
<rect x="838" y="74" width="3" height="8" fill="#000"/>
<rect x="839" y="75" width="1" height="6" fill="#fff"/>
<rect x="843" y="69" width="1" height="6" fill="#000"/>
<rect x="842" y="71" width="3" height="4" fill="#000"/>
<rect x="843" y="72" width="1" height="2" fill="#fff"/>
<rect x="847" y="76" width="1" height="1" fill="#000"/>
<rect x="846" y="76" width="3" height="1" fill="#000"/>
<rect x="851" y="72" width="1" height="4" fill="#000"/>
<rect x="850" y="73" width="3" height="3" fill="#000"/>
<rect x="851" y="74" width="1" height="1" fill="#fff"/>
<rect x="855" y="46" width="1" height="29" fill="#000"/>
<rect x="854" y="49" width="3" height="25" fill="#000"/>
<rect x="855" y="50" width="1" height="23" fill="#fff"/>
<rect x="859" y="47" width="1" height="9" fill="#000"/>
<rect x="858" y="49" width="3" height="6" fill="#000"/>
<rect x="863" y="49" width="1" height="12" fill="#000"/>
<rect x="862" y="51" width="3" height="4" fill="#000"/>
<rect x="863" y="52" width="1" height="2" fill="#fff"/>
<rect x="867" y="47" width="1" height="8" fill="#000"/>
<rect x="866" y="48" width="3" height="3" fill="#000"/>
<rect x="867" y="49" width="1" height="1" fill="#fff"/>
<rect x="871" y="49" width="1" height="3" fill="#000"/>
<rect x="870" y="49" width="3" height="3" fill="#000"/>
<rect x="875" y="42" width="1" height="10" fill="#000"/>
<rect x="874" y="43" width="3" height="8" fill="#000"/>
<rect x="875" y="44" width="1" height="6" fill="#fff"/>
<rect x="879" y="26" width="1" height="20" fill="#000"/>
<rect x="878" y="36" width="3" height="7" fill="#000"/>
<rect x="879" y="37" width="1" height="5" fill="#fff"/>
<rect x="883" y="34" width="1" height="6" fill="#000"/>
<rect x="882" y="36" width="3" height="1" fill="#000"/>
<rect x="887" y="31" width="1" height="8" fill="#000"/>
<rect x="886" y="33" width="3" height="5" fill="#000"/>
<rect x="887" y="34" width="1" height="3" fill="#fff"/>
<rect x="891" y="32" width="1" height="4" fill="#000"/>
<rect x="890" y="34" width="3" height="1" fill="#000"/>
<rect x="895" y="36" width="1" height="4" fill="#000"/>
<rect x="894" y="37" width="3" height="2" fill="#000"/>
<rect x="899" y="38" width="1" height="7" fill="#000"/>
<rect x="898" y="38" width="3" height="2" fill="#000"/>
<rect x="903" y="21" width="1" height="22" fill="#000"/>
<rect x="902" y="33" width="3" height="8" fill="#000"/>
<rect x="903" y="34" width="1" height="6" fill="#fff"/>
<rect x="907" y="27" width="1" height="11" fill="#000"/>
<rect x="906" y="31" width="3" height="2" fill="#000"/>
<rect x="911" y="29" width="1" height="16" fill="#000"/>
<rect x="910" y="31" width="3" height="7" fill="#000"/>
<rect x="915" y="38" width="1" height="9" fill="#000"/>
<rect x="914" y="38" width="3" height="1" fill="#000"/>
<rect x="919" y="62" width="1" height="8" fill="#000"/>
<rect x="918" y="63" width="3" height="5" fill="#000"/>
<rect x="923" y="57" width="1" height="13" fill="#000"/>
<rect x="922" y="58" width="3" height="10" fill="#000"/>
<rect x="923" y="59" width="1" height="8" fill="#fff"/>
<rect x="927" y="57" width="1" height="38" fill="#000"/>
<rect x="926" y="58" width="3" height="37" fill="#000"/>
<rect x="931" y="93" width="1" height="31" fill="#000"/>
<rect x="930" y="94" width="3" height="7" fill="#000"/>
<rect x="935" y="82" width="1" height="29" fill="#000"/>
<rect x="934" y="83" width="3" height="18" fill="#000"/>
<rect x="935" y="84" width="1" height="16" fill="#fff"/>
<rect x="939" y="75" width="1" height="9" fill="#000"/>
<rect x="938" y="79" width="3" height="4" fill="#000"/>
<rect x="939" y="80" width="1" height="2" fill="#fff"/>
<rect x="943" y="80" width="1" height="6" fill="#000"/>
<rect x="942" y="84" width="3" height="2" fill="#000"/>
<rect x="947" y="79" width="1" height="17" fill="#000"/>
<rect x="946" y="85" width="3" height="9" fill="#000"/>
<rect x="951" y="68" width="1" height="30" fill="#000"/>
<rect x="950" y="79" width="3" height="15" fill="#000"/>
<rect x="951" y="80" width="1" height="13" fill="#fff"/>
<rect x="955" y="73" width="1" height="10" fill="#000"/>
<rect x="954" y="75" width="3" height="4" fill="#000"/>
<rect x="955" y="76" width="1" height="2" fill="#fff"/>
<rect x="959" y="70" width="1" height="11" fill="#000"/>
<rect x="958" y="72" width="3" height="3" fill="#000"/>
<rect x="959" y="73" width="1" height="1" fill="#fff"/>
<rect x="963" y="70" width="1" height="5" fill="#000"/>
<rect x="962" y="72" width="3" height="1" fill="#000"/>
<rect x="967" y="77" width="1" height="5" fill="#000"/>
<rect x="966" y="78" width="3" height="2" fill="#000"/>
<rect x="971" y="74" width="1" height="10" fill="#000"/>
<rect x="970" y="76" width="3" height="4" fill="#000"/>
<rect x="971" y="77" width="1" height="2" fill="#fff"/>
<rect x="975" y="57" width="1" height="21" fill="#000"/>
<rect x="974" y="60" width="3" height="17" fill="#000"/>
<rect x="975" y="61" width="1" height="15" fill="#fff"/>
<rect x="979" y="54" width="1" height="9" fill="#000"/>
<rect x="978" y="54" width="3" height="7" fill="#000"/>
<rect x="979" y="55" width="1" height="5" fill="#fff"/>
<rect x="983" y="45" width="1" height="11" fill="#000"/>
<rect x="982" y="47" width="3" height="7" fill="#000"/>
<rect x="983" y="48" width="1" height="5" fill="#fff"/>
<rect x="987" y="43" width="1" height="6" fill="#000"/>
<rect x="986" y="44" width="3" height="4" fill="#000"/>
<rect x="987" y="45" width="1" height="2" fill="#fff"/>
</g>
<g shape-rendering="crispEdges" fill="#000">
<rect x="2" y="2" width="998" height="1"/>
<rect x="2" y="2" width="1" height="561"/>
<rect x="999" y="2" width="1" height="561"/>
<rect x="2" y="375" width="998" height="1"/>
<rect x="2" y="377" width="998" height="1"/>
<rect x="2" y="376" width="998" height="1" fill="#fff"/>
<rect x="2" y="562" width="998" height="1"/>
<rect x="12" y="3" width="1" height="577"/>
<rect x="1000" y="9" width="2" height="1"/>
<rect x="1000" y="75" width="2" height="1"/>
<rect x="1000" y="108" width="2" height="1"/>
<rect x="1000" y="141" width="2" height="1"/>
<rect x="1000" y="174" width="2" height="1"/>
<rect x="1000" y="207" width="2" height="1"/>
<rect x="1000" y="240" width="2" height="1"/>
<rect x="1000" y="273" width="2" height="1"/>
<rect x="1000" y="306" width="2" height="1"/>
<rect x="1000" y="339" width="2" height="1"/>
<rect x="1000" y="372" width="2" height="1"/>
<rect x="1000" y="379" width="1" height="1"/>
<rect x="1000" y="466" width="1" height="1"/>
<rect x="1000" y="561" width="1" height="1"/>
<rect x="1000" y="44" width="2" height="1"/>
<rect x="3" y="563" width="1" height="3"/>
<rect x="67" y="563" width="1" height="3"/>
<rect x="131" y="563" width="1" height="3"/>
<rect x="195" y="563" width="1" height="3"/>
<rect x="259" y="563" width="1" height="3"/>
<rect x="323" y="563" width="1" height="3"/>
<rect x="387" y="563" width="1" height="3"/>
<rect x="451" y="563" width="1" height="3"/>
<rect x="515" y="563" width="1" height="3"/>
<rect x="579" y="563" width="1" height="3"/>
<rect x="643" y="563" width="1" height="3"/>
<rect x="707" y="563" width="1" height="3"/>
<rect x="771" y="563" width="1" height="3"/>
<rect x="835" y="563" width="1" height="3"/>
<rect x="899" y="563" width="1" height="3"/>
<rect x="963" y="563" width="1" height="3"/>
<rect x="1001" y="39" width="41" height="10"/>
<rect x="1001" y="49" width="41" height="11" fill="#ff0000"/>
<rect x="1001" y="124" width="41" height="11" fill="#ff0000"/>
<rect x="0" y="566" width="52" height="11"/>
</g>
<text x="1005.4" y="13" textLength="32.6" lengthAdjust="spacingAndGlyphs" fill="#000" stroke="#000" stroke-width="0.15">13861.0</text>
<text x="1005.4" y="79" textLength="32.6" lengthAdjust="spacingAndGlyphs" fill="#000" stroke="#000" stroke-width="0.15">13392.0</text>
<text x="1005.4" y="112" textLength="32.6" lengthAdjust="spacingAndGlyphs" fill="#000" stroke="#000" stroke-width="0.15">13154.0</text>
<text x="1005.4" y="145" textLength="32.6" lengthAdjust="spacingAndGlyphs" fill="#000" stroke="#000" stroke-width="0.15">12923.0</text>
<text x="1005.4" y="178" textLength="32.6" lengthAdjust="spacingAndGlyphs" fill="#000" stroke="#000" stroke-width="0.15">12685.0</text>
<text x="1005.4" y="211" textLength="32.6" lengthAdjust="spacingAndGlyphs" fill="#000" stroke="#000" stroke-width="0.15">12454.0</text>
<text x="1005.4" y="244" textLength="32.6" lengthAdjust="spacingAndGlyphs" fill="#000" stroke="#000" stroke-width="0.15">12216.0</text>
<text x="1005.4" y="277" textLength="32.6" lengthAdjust="spacingAndGlyphs" fill="#000" stroke="#000" stroke-width="0.15">11985.0</text>
<text x="1005.4" y="310" textLength="32.6" lengthAdjust="spacingAndGlyphs" fill="#000" stroke="#000" stroke-width="0.15">11747.0</text>
<text x="1005.4" y="343" textLength="32.6" lengthAdjust="spacingAndGlyphs" fill="#000" stroke="#000" stroke-width="0.15">11516.0</text>
<text x="1005.4" y="376" textLength="32.6" lengthAdjust="spacingAndGlyphs" fill="#000" stroke="#000" stroke-width="0.15">11285.0</text>
<text x="1005.4" y="48" textLength="32.6" lengthAdjust="spacingAndGlyphs" fill="#fff" stroke="#fff" stroke-width="0.15">13608.8</text>
<text x="1005.4" y="58.3" textLength="32.6" lengthAdjust="spacingAndGlyphs" fill="#fff" stroke="#fff" stroke-width="0.15">13529.8</text>
<text x="1005.4" y="133.2" textLength="32.6" lengthAdjust="spacingAndGlyphs" fill="#fff" stroke="#fff" stroke-width="0.15">12996.6</text>
<text x="1002.9" y="388" textLength="23.1" lengthAdjust="spacingAndGlyphs" fill="#000" stroke="#000" stroke-width="0.15">271.8</text>
<text x="1003.1" y="470" textLength="18.1" lengthAdjust="spacingAndGlyphs" fill="#000" stroke="#000" stroke-width="0.15">0.00</text>
<text x="1002.7" y="559" textLength="31.5" lengthAdjust="spacingAndGlyphs" fill="#000" stroke="#000" stroke-width="0.15">-298.38</text>
<text x="7.9" y="14" textLength="59.8" lengthAdjust="spacingAndGlyphs" fill="#000" stroke="#000" stroke-width="0.15">FDAXCash,H4</text>
<text x="74.2" y="14" textLength="32.5" lengthAdjust="spacingAndGlyphs" fill="#000" stroke="#000" stroke-width="0.15">13590.3</text>
<text x="110.2" y="14" textLength="32.5" lengthAdjust="spacingAndGlyphs" fill="#000" stroke="#000" stroke-width="0.15">13620.8</text>
<text x="146.2" y="14" textLength="32.5" lengthAdjust="spacingAndGlyphs" fill="#000" stroke="#000" stroke-width="0.15">13583.8</text>
<text x="182.2" y="14" textLength="32.5" lengthAdjust="spacingAndGlyphs" fill="#000" stroke="#000" stroke-width="0.15">13608.8</text>
<text x="7.6" y="390" textLength="65.1" lengthAdjust="spacingAndGlyphs" fill="#000" stroke="#000" stroke-width="0.15">MACD(12,26,9)</text>
<text x="77.4" y="390" textLength="21.1" lengthAdjust="spacingAndGlyphs" fill="#000" stroke="#000" stroke-width="0.15">17.49</text>
<text x="102.5" y="390" textLength="25.1" lengthAdjust="spacingAndGlyphs" fill="#000" stroke="#000" stroke-width="0.15">-19.04</text>
<text x="134.6" y="390" textLength="35.2" lengthAdjust="spacingAndGlyphs" fill="#000" stroke="#000" stroke-width="0.15">-&gt;MA(1)</text>
<text x="173.8" y="390" textLength="21.5" lengthAdjust="spacingAndGlyphs" fill="#000" stroke="#000" stroke-width="0.15">17.49</text>
<text x="66" y="575" textLength="53.5" lengthAdjust="spacingAndGlyphs" fill="#000" stroke="#000" stroke-width="0.15">30 Oct 12:00</text>
<text x="130" y="575" textLength="50.5" lengthAdjust="spacingAndGlyphs" fill="#000" stroke="#000" stroke-width="0.15">4 Nov 04:00</text>
<text x="194" y="575" textLength="50.5" lengthAdjust="spacingAndGlyphs" fill="#000" stroke="#000" stroke-width="0.15">6 Nov 20:00</text>
<text x="258" y="575" textLength="55.5" lengthAdjust="spacingAndGlyphs" fill="#000" stroke="#000" stroke-width="0.15">11 Nov 12:00</text>
<text x="322" y="575" textLength="55.5" lengthAdjust="spacingAndGlyphs" fill="#000" stroke="#000" stroke-width="0.15">16 Nov 04:00</text>
<text x="386" y="575" textLength="55.5" lengthAdjust="spacingAndGlyphs" fill="#000" stroke="#000" stroke-width="0.15">18 Nov 20:00</text>
<text x="450" y="575" textLength="55.5" lengthAdjust="spacingAndGlyphs" fill="#000" stroke="#000" stroke-width="0.15">23 Nov 12:00</text>
<text x="514" y="575" textLength="55.5" lengthAdjust="spacingAndGlyphs" fill="#000" stroke="#000" stroke-width="0.15">26 Nov 04:00</text>
<text x="578" y="575" textLength="55.5" lengthAdjust="spacingAndGlyphs" fill="#000" stroke="#000" stroke-width="0.15">30 Nov 20:00</text>
<text x="642" y="575" textLength="49.5" lengthAdjust="spacingAndGlyphs" fill="#000" stroke="#000" stroke-width="0.15">3 Dec 12:00</text>
<text x="706" y="575" textLength="49.5" lengthAdjust="spacingAndGlyphs" fill="#000" stroke="#000" stroke-width="0.15">8 Dec 04:00</text>
<text x="770" y="575" textLength="54.5" lengthAdjust="spacingAndGlyphs" fill="#000" stroke="#000" stroke-width="0.15">10 Dec 20:00</text>
<text x="834" y="575" textLength="54.5" lengthAdjust="spacingAndGlyphs" fill="#000" stroke="#000" stroke-width="0.15">15 Dec 12:00</text>
<text x="898" y="575" textLength="54.5" lengthAdjust="spacingAndGlyphs" fill="#000" stroke="#000" stroke-width="0.15">18 Dec 04:00</text>
<text x="962" y="575" textLength="54.5" lengthAdjust="spacingAndGlyphs" fill="#000" stroke="#000" stroke-width="0.15">22 Dec 20:00</text>
<text x="47.4" y="575" textLength="69" lengthAdjust="spacingAndGlyphs" fill="#fff" stroke="#fff" stroke-width="0.15" text-anchor="end">2020.10.27 16:00</text>
</svg></body></html>
